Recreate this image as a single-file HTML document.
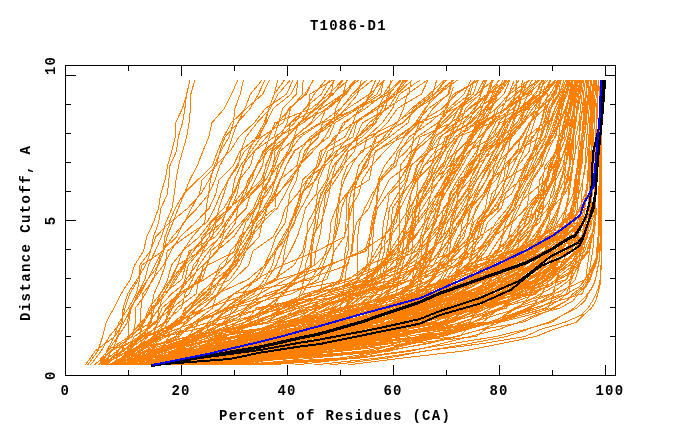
<!DOCTYPE html>
<html><head><meta charset="utf-8"><style>
html,body{margin:0;padding:0;background:#fff;}
svg{display:block;}
</style></head><body>
<svg width="680" height="440" viewBox="0 0 680 440">
<rect width="680" height="440" fill="#fff"/>
<g shape-rendering="crispEdges">
<polyline points="85.3,365.0 95.4,350.8 114.9,336.5 124.0,322.2 131.4,308.0 138.6,293.8 147.6,279.5 158.5,265.2 163.7,251.0 167.1,236.8 172.8,222.5 178.3,208.2 184.3,194.0 189.8,179.8 197.3,165.5 202.9,151.2 208.8,137.0 211.9,122.8 224.4,108.5 231.5,94.2 237.9,80.0" fill="none" stroke="#ff8000" stroke-width="1"/>
<polyline points="87.7,365.0 97.9,350.8 102.7,336.5 106.3,322.2 113.9,308.0 121.1,293.8 130.2,279.5 134.6,265.2 143.5,251.0 146.8,236.8 153.4,222.5 158.6,208.2 160.6,194.0 165.2,179.8 167.7,165.5 171.7,151.2 175.3,137.0 175.6,122.8 182.4,108.5 186.8,94.2 190.0,80.0" fill="none" stroke="#ff8000" stroke-width="1"/>
<polyline points="90.5,365.0 101.3,350.8 109.3,336.5 121.1,322.2 125.0,308.0 129.9,293.8 138.5,279.5 141.9,265.2 162.9,251.0 164.9,236.8 170.2,222.5 187.7,208.2 200.8,194.0 209.1,179.8 215.5,165.5 230.1,151.2 238.9,137.0 254.2,122.8 265.3,108.5 286.5,94.2 292.9,80.0" fill="none" stroke="#ff8000" stroke-width="1"/>
<polyline points="94.0,365.0 112.3,350.8 118.0,336.5 127.5,322.2 130.1,308.0 140.4,293.8 147.6,279.5 154.9,265.2 162.4,251.0 172.6,236.8 184.6,222.5 191.4,208.2 199.5,194.0 202.1,179.8 216.3,165.5 219.9,151.2 224.9,137.0 237.9,122.8 244.9,108.5 250.5,94.2 262.0,80.0" fill="none" stroke="#ff8000" stroke-width="1"/>
<polyline points="95.4,365.0 107.9,350.8 117.7,336.5 122.3,322.2 123.1,308.0 127.7,293.8 136.9,279.5 145.7,265.2 150.7,251.0 153.4,236.8 158.7,222.5 160.9,208.2 167.4,194.0 168.9,179.8 170.0,165.5 176.5,151.2 178.3,137.0 182.5,122.8 184.9,108.5 186.5,94.2 190.0,80.0" fill="none" stroke="#ff8000" stroke-width="1"/>
<polyline points="98.2,365.0 110.1,350.8 132.3,336.5 135.4,322.2 135.4,308.0 145.6,293.8 152.2,279.5 163.7,265.2 170.9,251.0 180.1,236.8 195.4,222.5 209.2,208.2 215.7,194.0 219.0,179.8 233.3,165.5 239.9,151.2 257.7,137.0 266.4,122.8 273.1,108.5 291.0,94.2 298.1,80.0" fill="none" stroke="#ff8000" stroke-width="1"/>
<polyline points="98.8,365.0 117.4,350.8 128.9,336.5 128.9,322.2 130.9,308.0 137.9,293.8 144.9,279.5 148.5,265.2 155.2,251.0 161.5,236.8 165.9,222.5 172.0,208.2 174.2,194.0 176.0,179.8 178.6,165.5 182.6,151.2 186.7,137.0 189.1,122.8 190.5,108.5 190.8,94.2 194.9,80.0" fill="none" stroke="#ff8000" stroke-width="1"/>
<polyline points="100.9,365.0 122.0,350.8 128.4,336.5 143.3,322.2 154.4,308.0 160.3,293.8 170.6,279.5 177.3,265.2 200.9,251.0 202.0,236.8 215.5,222.5 218.9,208.2 223.9,194.0 228.1,179.8 237.0,165.5 244.6,151.2 259.4,137.0 265.5,122.8 268.8,108.5 274.3,94.2 284.4,80.0" fill="none" stroke="#ff8000" stroke-width="1"/>
<polyline points="101.6,365.0 106.8,350.8 114.4,336.5 119.0,322.2 128.6,308.0 136.3,293.8 139.7,279.5 139.8,265.2 150.3,251.0 155.9,236.8 169.2,222.5 175.3,208.2 183.6,194.0 197.9,179.8 212.4,165.5 217.6,151.2 223.6,137.0 231.3,122.8 246.3,108.5 262.7,94.2 269.4,80.0" fill="none" stroke="#ff8000" stroke-width="1"/>
<polyline points="102.0,365.0 122.7,350.8 139.9,336.5 141.6,322.2 152.6,308.0 163.2,293.8 171.5,279.5 183.0,265.2 190.9,251.0 204.9,236.8 221.7,222.5 227.8,208.2 232.4,194.0 239.4,179.8 250.5,165.5 254.4,151.2 266.5,137.0 277.7,122.8 290.1,108.5 304.8,94.2 313.7,80.0" fill="none" stroke="#ff8000" stroke-width="1"/>
<polyline points="102.9,365.0 129.2,350.8 140.0,336.5 143.4,322.2 149.1,308.0 160.4,293.8 167.7,279.5 171.4,265.2 182.7,251.0 192.4,236.8 204.8,222.5 206.2,208.2 208.6,194.0 210.4,179.8 214.4,165.5 220.6,151.2 229.2,137.0 233.4,122.8 234.9,108.5 240.2,94.2 243.5,80.0" fill="none" stroke="#ff8000" stroke-width="1"/>
<polyline points="103.3,365.0 106.6,350.8 129.5,336.5 140.7,322.2 141.0,308.0 142.7,293.8 153.5,279.5 157.7,265.2 161.9,251.0 176.8,236.8 183.3,222.5 197.1,208.2 208.7,194.0 215.2,179.8 219.9,165.5 227.7,151.2 232.2,137.0 237.4,122.8 250.1,108.5 258.3,94.2 265.0,80.0" fill="none" stroke="#ff8000" stroke-width="1"/>
<polyline points="104.0,365.0 127.3,350.8 146.7,336.5 149.0,322.2 159.4,308.0 163.3,293.8 181.9,279.5 185.7,265.2 189.0,251.0 215.7,236.8 225.8,222.5 236.0,208.2 243.0,194.0 248.3,179.8 257.0,165.5 267.6,151.2 286.2,137.0 300.2,122.8 308.9,108.5 310.0,94.2 332.6,80.0" fill="none" stroke="#ff8000" stroke-width="1"/>
<polyline points="104.6,365.0 111.0,350.8 131.7,336.5 144.5,322.2 151.1,308.0 154.0,293.8 160.3,279.5 165.2,265.2 167.1,251.0 185.8,236.8 206.9,222.5 214.7,208.2 220.4,194.0 228.5,179.8 238.4,165.5 240.8,151.2 246.1,137.0 257.0,122.8 270.2,108.5 278.1,94.2 290.2,80.0" fill="none" stroke="#ff8000" stroke-width="1"/>
<polyline points="105.6,365.0 123.7,350.8 143.9,336.5 149.1,322.2 159.5,308.0 163.3,293.8 171.9,279.5 177.7,265.2 182.5,251.0 199.4,236.8 210.1,222.5 223.9,208.2 232.0,194.0 234.5,179.8 240.5,165.5 251.0,151.2 261.4,137.0 283.2,122.8 288.6,108.5 306.5,94.2 312.8,80.0" fill="none" stroke="#ff8000" stroke-width="1"/>
<polyline points="106.1,365.0 118.6,350.8 127.8,336.5 151.3,322.2 154.1,308.0 166.1,293.8 176.0,279.5 185.1,265.2 198.6,251.0 209.0,236.8 214.9,222.5 229.0,208.2 246.4,194.0 261.3,179.8 266.2,165.5 271.5,151.2 277.9,137.0 303.4,122.8 321.2,108.5 342.7,94.2 354.7,80.0" fill="none" stroke="#ff8000" stroke-width="1"/>
<polyline points="106.5,365.0 110.6,350.8 143.3,336.5 150.8,322.2 151.6,308.0 166.4,293.8 174.0,279.5 184.0,265.2 193.5,251.0 205.0,236.8 210.8,222.5 230.2,208.2 241.0,194.0 251.8,179.8 256.1,165.5 264.6,151.2 269.4,137.0 274.8,122.8 311.1,108.5 329.3,94.2 342.3,80.0" fill="none" stroke="#ff8000" stroke-width="1"/>
<polyline points="107.6,365.0 141.9,350.8 153.1,336.5 157.5,322.2 158.6,308.0 171.6,293.8 189.6,279.5 193.2,265.2 204.7,251.0 220.6,236.8 232.3,222.5 246.2,208.2 250.5,194.0 263.0,179.8 265.6,165.5 272.1,151.2 287.3,137.0 298.8,122.8 317.1,108.5 333.3,94.2 343.2,80.0" fill="none" stroke="#ff8000" stroke-width="1"/>
<polyline points="107.8,365.0 116.6,350.8 139.3,336.5 156.5,322.2 162.1,308.0 179.1,293.8 185.0,279.5 188.2,265.2 200.1,251.0 212.3,236.8 216.1,222.5 231.0,208.2 237.0,194.0 240.0,179.8 242.9,165.5 254.0,151.2 273.9,137.0 278.7,122.8 282.6,108.5 296.4,94.2 297.8,80.0" fill="none" stroke="#ff8000" stroke-width="1"/>
<polyline points="108.9,365.0 133.7,350.8 162.7,336.5 173.9,322.2 190.2,308.0 199.4,293.8 215.0,279.5 234.1,265.2 242.6,251.0 251.1,236.8 263.4,222.5 266.9,208.2 278.2,194.0 288.4,179.8 299.8,165.5 309.6,151.2 329.0,137.0 335.1,122.8 357.8,108.5 380.7,94.2 383.7,80.0" fill="none" stroke="#ff8000" stroke-width="1"/>
<polyline points="109.2,365.0 136.3,350.8 147.7,336.5 158.9,322.2 166.0,308.0 179.2,293.8 186.1,279.5 196.3,265.2 202.8,251.0 211.1,236.8 222.9,222.5 226.7,208.2 234.2,194.0 238.9,179.8 243.9,165.5 248.5,151.2 256.3,137.0 264.3,122.8 268.9,108.5 274.3,94.2 277.7,80.0" fill="none" stroke="#ff8000" stroke-width="1"/>
<polyline points="110.4,365.0 149.2,350.8 159.7,336.5 167.6,322.2 176.9,308.0 196.1,293.8 198.9,279.5 203.7,265.2 217.6,251.0 225.8,236.8 235.6,222.5 237.8,208.2 245.5,194.0 249.7,179.8 257.3,165.5 263.1,151.2 280.0,137.0 287.1,122.8 290.5,108.5 302.6,94.2 303.1,80.0" fill="none" stroke="#ff8000" stroke-width="1"/>
<polyline points="110.6,365.0 157.3,350.8 175.2,336.5 194.4,322.2 212.6,308.0 217.0,293.8 225.2,279.5 232.2,265.2 243.9,251.0 250.4,236.8 252.9,222.5 260.0,208.2 264.4,194.0 268.6,179.8 277.9,165.5 291.0,151.2 294.4,137.0 310.8,122.8 319.7,108.5 330.9,94.2 333.7,80.0" fill="none" stroke="#ff8000" stroke-width="1"/>
<polyline points="111.6,365.0 140.5,350.8 167.0,336.5 177.0,322.2 191.7,308.0 210.1,293.8 213.1,279.5 225.2,265.2 230.3,251.0 243.0,236.8 250.8,222.5 255.0,208.2 264.5,194.0 274.9,179.8 278.8,165.5 287.9,151.2 294.0,137.0 312.2,122.8 326.2,108.5 343.0,94.2 346.9,80.0" fill="none" stroke="#ff8000" stroke-width="1"/>
<polyline points="112.0,365.0 133.3,350.8 156.0,336.5 165.2,322.2 168.8,308.0 179.5,293.8 200.3,279.5 203.2,265.2 216.5,251.0 233.8,236.8 243.3,222.5 255.6,208.2 267.1,194.0 275.8,179.8 281.5,165.5 289.7,151.2 300.3,137.0 321.6,122.8 340.5,108.5 354.6,94.2 372.8,80.0" fill="none" stroke="#ff8000" stroke-width="1"/>
<polyline points="112.9,365.0 121.6,350.8 143.9,336.5 164.7,322.2 172.6,308.0 189.2,293.8 196.6,279.5 207.3,265.2 211.0,251.0 227.9,236.8 241.3,222.5 253.5,208.2 259.4,194.0 269.4,179.8 275.0,165.5 280.0,151.2 296.9,137.0 320.2,122.8 326.1,108.5 346.4,94.2 355.8,80.0" fill="none" stroke="#ff8000" stroke-width="1"/>
<polyline points="113.6,365.0 128.6,350.8 141.5,336.5 166.5,322.2 170.2,308.0 177.4,293.8 204.4,279.5 225.8,265.2 238.2,251.0 242.5,236.8 251.0,222.5 263.8,208.2 277.0,194.0 290.6,179.8 300.7,165.5 304.5,151.2 318.4,137.0 322.5,122.8 357.3,108.5 388.4,94.2 391.0,80.0" fill="none" stroke="#ff8000" stroke-width="1"/>
<polyline points="113.9,365.0 132.8,350.8 153.5,336.5 164.5,322.2 181.5,308.0 185.1,293.8 192.5,279.5 199.0,265.2 209.0,251.0 219.7,236.8 227.7,222.5 237.1,208.2 248.3,194.0 255.2,179.8 262.6,165.5 265.4,151.2 279.4,137.0 294.7,122.8 304.5,108.5 321.3,94.2 329.5,80.0" fill="none" stroke="#ff8000" stroke-width="1"/>
<polyline points="115.0,365.0 130.6,350.8 160.4,336.5 178.3,322.2 185.3,308.0 205.4,293.8 214.1,279.5 219.7,265.2 234.2,251.0 239.8,236.8 254.5,222.5 259.7,208.2 261.2,194.0 270.1,179.8 272.7,165.5 278.5,151.2 286.5,137.0 300.5,122.8 315.1,108.5 325.3,94.2 334.5,80.0" fill="none" stroke="#ff8000" stroke-width="1"/>
<polyline points="115.8,365.0 135.0,350.8 160.5,336.5 179.3,322.2 191.3,308.0 207.9,293.8 220.0,279.5 231.1,265.2 240.2,251.0 249.1,236.8 260.2,222.5 266.6,208.2 275.2,194.0 280.4,179.8 286.3,165.5 294.8,151.2 313.0,137.0 329.9,122.8 340.9,108.5 352.1,94.2 366.8,80.0" fill="none" stroke="#ff8000" stroke-width="1"/>
<polyline points="116.4,365.0 127.2,350.8 140.2,336.5 154.4,322.2 172.4,308.0 178.4,293.8 189.0,279.5 202.9,265.2 217.1,251.0 222.8,236.8 225.5,222.5 236.1,208.2 251.6,194.0 265.9,179.8 273.6,165.5 274.7,151.2 287.6,137.0 290.5,122.8 316.2,108.5 332.4,94.2 348.1,80.0" fill="none" stroke="#ff8000" stroke-width="1"/>
<polyline points="117.3,365.0 144.6,350.8 175.6,336.5 184.9,322.2 196.9,308.0 217.7,293.8 225.3,279.5 235.5,265.2 245.9,251.0 252.4,236.8 257.2,222.5 275.0,208.2 275.3,194.0 280.4,179.8 286.1,165.5 293.9,151.2 314.6,137.0 333.7,122.8 335.8,108.5 343.4,94.2 358.4,80.0" fill="none" stroke="#ff8000" stroke-width="1"/>
<polyline points="117.8,365.0 206.6,350.8 216.7,336.5 237.5,322.2 245.6,308.0 260.3,293.8 267.2,279.5 276.2,265.2 281.4,251.0 286.6,236.8 294.8,222.5 296.8,208.2 300.8,194.0 316.1,179.8 323.4,165.5 333.0,151.2 335.9,137.0 345.3,122.8 362.3,108.5 369.5,94.2 375.7,80.0" fill="none" stroke="#ff8000" stroke-width="1"/>
<polyline points="118.1,365.0 130.1,350.8 154.7,336.5 181.5,322.2 186.4,308.0 201.5,293.8 229.7,279.5 240.0,265.2 245.9,251.0 259.2,236.8 262.2,222.5 277.2,208.2 285.1,194.0 291.9,179.8 298.6,165.5 307.0,151.2 312.8,137.0 331.0,122.8 355.4,108.5 376.9,94.2 383.9,80.0" fill="none" stroke="#ff8000" stroke-width="1"/>
<polyline points="118.7,365.0 127.2,350.8 134.2,336.5 156.3,322.2 167.4,308.0 182.0,293.8 201.9,279.5 207.1,265.2 236.8,251.0 246.3,236.8 254.8,222.5 265.4,208.2 273.8,194.0 279.8,179.8 297.1,165.5 300.3,151.2 310.2,137.0 328.0,122.8 347.5,108.5 369.3,94.2 384.7,80.0" fill="none" stroke="#ff8000" stroke-width="1"/>
<polyline points="118.9,365.0 131.5,350.8 155.5,336.5 178.5,322.2 203.2,308.0 218.8,293.8 233.4,279.5 248.7,265.2 252.9,251.0 273.1,236.8 280.9,222.5 285.2,208.2 297.3,194.0 307.1,179.8 318.8,165.5 325.2,151.2 334.0,137.0 353.7,122.8 374.9,108.5 395.7,94.2 407.4,80.0" fill="none" stroke="#ff8000" stroke-width="1"/>
<polyline points="119.3,365.0 154.4,350.8 206.7,336.5 222.6,322.2 237.5,308.0 243.0,293.8 255.1,279.5 264.3,265.2 271.0,251.0 275.9,236.8 285.3,222.5 287.7,208.2 289.7,194.0 296.4,179.8 299.3,165.5 313.1,151.2 325.0,137.0 332.7,122.8 345.7,108.5 357.7,94.2 361.3,80.0" fill="none" stroke="#ff8000" stroke-width="1"/>
<polyline points="119.9,365.0 157.6,350.8 203.4,336.5 211.0,322.2 231.9,308.0 253.7,293.8 264.5,279.5 272.6,265.2 275.8,251.0 287.4,236.8 293.6,222.5 301.1,208.2 308.9,194.0 314.9,179.8 322.5,165.5 335.9,151.2 362.0,137.0 376.0,122.8 378.0,108.5 385.0,94.2 401.1,80.0" fill="none" stroke="#ff8000" stroke-width="1"/>
<polyline points="120.4,365.0 135.8,350.8 145.1,336.5 177.3,322.2 189.8,308.0 203.6,293.8 221.8,279.5 236.6,265.2 240.1,251.0 249.8,236.8 253.8,222.5 263.4,208.2 271.5,194.0 275.0,179.8 281.5,165.5 288.1,151.2 294.1,137.0 298.5,122.8 328.5,108.5 345.4,94.2 355.1,80.0" fill="none" stroke="#ff8000" stroke-width="1"/>
<polyline points="120.7,365.0 159.8,350.8 168.9,336.5 187.4,322.2 202.9,308.0 217.1,293.8 248.0,279.5 264.9,265.2 274.6,251.0 282.7,236.8 291.1,222.5 295.4,208.2 302.0,194.0 307.4,179.8 323.8,165.5 327.6,151.2 353.0,137.0 356.7,122.8 375.0,108.5 393.3,94.2 405.3,80.0" fill="none" stroke="#ff8000" stroke-width="1"/>
<polyline points="121.3,365.0 164.5,350.8 187.3,336.5 213.9,322.2 229.4,308.0 249.1,293.8 276.9,279.5 282.2,265.2 290.3,251.0 297.3,236.8 301.8,222.5 305.4,208.2 316.3,194.0 318.8,179.8 324.9,165.5 342.2,151.2 357.7,137.0 369.2,122.8 386.5,108.5 408.9,94.2 411.1,80.0" fill="none" stroke="#ff8000" stroke-width="1"/>
<polyline points="121.5,365.0 138.5,350.8 147.1,336.5 180.0,322.2 196.0,308.0 212.6,293.8 220.6,279.5 233.3,265.2 236.4,251.0 241.3,236.8 245.8,222.5 256.2,208.2 261.3,194.0 263.9,179.8 268.6,165.5 272.9,151.2 275.5,137.0 290.8,122.8 305.4,108.5 314.2,94.2 325.5,80.0" fill="none" stroke="#ff8000" stroke-width="1"/>
<polyline points="122.1,365.0 127.7,350.8 188.4,336.5 198.7,322.2 226.0,308.0 246.2,293.8 273.9,279.5 293.9,265.2 302.9,251.0 305.6,236.8 312.7,222.5 318.0,208.2 320.5,194.0 331.3,179.8 340.8,165.5 348.2,151.2 372.4,137.0 387.3,122.8 397.5,108.5 421.3,94.2 428.1,80.0" fill="none" stroke="#ff8000" stroke-width="1"/>
<polyline points="122.3,365.0 130.1,350.8 157.4,336.5 195.1,322.2 221.0,308.0 233.5,293.8 258.5,279.5 266.2,265.2 275.9,251.0 284.6,236.8 291.6,222.5 296.4,208.2 300.0,194.0 302.6,179.8 318.4,165.5 322.0,151.2 336.5,137.0 343.2,122.8 365.6,108.5 383.8,94.2 392.6,80.0" fill="none" stroke="#ff8000" stroke-width="1"/>
<polyline points="123.1,365.0 173.9,350.8 189.6,336.5 217.1,322.2 225.6,308.0 243.4,293.8 275.2,279.5 282.7,265.2 284.5,251.0 288.0,236.8 289.5,222.5 298.6,208.2 302.2,194.0 311.3,179.8 316.7,165.5 320.3,151.2 344.8,137.0 352.7,122.8 358.6,108.5 372.2,94.2 380.0,80.0" fill="none" stroke="#ff8000" stroke-width="1"/>
<polyline points="123.3,365.0 183.8,350.8 217.2,336.5 228.6,322.2 282.0,308.0 302.5,293.8 310.9,279.5 320.1,265.2 326.2,251.0 329.8,236.8 330.7,222.5 336.2,208.2 346.1,194.0 358.1,179.8 363.1,165.5 376.4,151.2 396.1,137.0 418.3,122.8 425.8,108.5 434.2,94.2 453.7,80.0" fill="none" stroke="#ff8000" stroke-width="1"/>
<polyline points="123.7,365.0 171.9,350.8 205.2,336.5 244.4,322.2 265.4,308.0 283.7,293.8 296.0,279.5 300.9,265.2 304.5,251.0 306.7,236.8 307.8,222.5 315.7,208.2 322.0,194.0 327.9,179.8 333.4,165.5 345.7,151.2 356.8,137.0 373.1,122.8 382.2,108.5 388.4,94.2 401.2,80.0" fill="none" stroke="#ff8000" stroke-width="1"/>
<polyline points="124.0,365.0 173.9,350.8 253.2,336.5 278.5,322.2 295.8,308.0 300.2,293.8 304.1,279.5 305.4,265.2 309.8,251.0 312.5,236.8 321.1,222.5 325.3,208.2 329.1,194.0 331.6,179.8 342.7,165.5 354.5,151.2 358.0,137.0 375.1,122.8 385.1,108.5 389.5,94.2 400.1,80.0" fill="none" stroke="#ff8000" stroke-width="1"/>
<polyline points="124.5,365.0 138.4,350.8 163.9,336.5 226.1,322.2 232.9,308.0 291.7,293.8 318.3,279.5 323.0,265.2 328.7,251.0 335.4,236.8 339.3,222.5 341.6,208.2 347.0,194.0 369.2,179.8 372.0,165.5 375.1,151.2 403.1,137.0 415.5,122.8 425.1,108.5 438.0,94.2 453.6,80.0" fill="none" stroke="#ff8000" stroke-width="1"/>
<polyline points="125.0,365.0 180.6,350.8 194.4,336.5 224.2,322.2 248.2,308.0 277.7,293.8 303.0,279.5 311.2,265.2 312.0,251.0 314.1,236.8 317.5,222.5 319.7,208.2 324.2,194.0 331.6,179.8 335.4,165.5 345.3,151.2 356.3,137.0 362.4,122.8 388.1,108.5 397.0,94.2 412.0,80.0" fill="none" stroke="#ff8000" stroke-width="1"/>
<polyline points="125.6,365.0 139.1,350.8 162.5,336.5 209.5,322.2 263.8,308.0 283.7,293.8 293.4,279.5 314.3,265.2 315.7,251.0 319.7,236.8 322.0,222.5 323.9,208.2 325.5,194.0 335.6,179.8 344.5,165.5 348.1,151.2 366.9,137.0 382.3,122.8 392.5,108.5 399.4,94.2 420.2,80.0" fill="none" stroke="#ff8000" stroke-width="1"/>
<polyline points="126.0,365.0 145.1,350.8 177.1,336.5 197.9,322.2 230.2,308.0 259.4,293.8 286.1,279.5 314.6,265.2 329.3,251.0 334.9,236.8 337.3,222.5 338.4,208.2 340.3,194.0 342.0,179.8 347.4,165.5 363.3,151.2 367.3,137.0 396.9,122.8 411.5,108.5 429.4,94.2 444.4,80.0" fill="none" stroke="#ff8000" stroke-width="1"/>
<polyline points="126.1,365.0 135.9,350.8 189.0,336.5 213.6,322.2 226.9,308.0 273.8,293.8 294.8,279.5 310.1,265.2 311.3,251.0 312.4,236.8 315.2,222.5 315.6,208.2 317.8,194.0 326.9,179.8 329.8,165.5 337.2,151.2 348.7,137.0 354.8,122.8 378.4,108.5 396.2,94.2 403.2,80.0" fill="none" stroke="#ff8000" stroke-width="1"/>
<polyline points="126.5,365.0 172.6,350.8 255.7,336.5 282.8,322.2 331.5,308.0 342.8,293.8 345.2,279.5 346.6,265.2 352.2,251.0 353.6,236.8 356.6,222.5 368.9,208.2 374.2,194.0 379.3,179.8 391.1,165.5 406.4,151.2 417.1,137.0 437.8,122.8 448.5,108.5 464.0,94.2 471.0,80.0" fill="none" stroke="#ff8000" stroke-width="1"/>
<polyline points="127.1,365.0 172.6,350.8 199.4,336.5 237.9,322.2 272.1,308.0 281.3,293.8 326.9,279.5 331.7,265.2 333.4,251.0 333.6,236.8 335.5,222.5 337.1,208.2 339.6,194.0 344.4,179.8 351.6,165.5 361.0,151.2 387.1,137.0 397.4,122.8 403.7,108.5 407.2,94.2 427.5,80.0" fill="none" stroke="#ff8000" stroke-width="1"/>
<polyline points="127.6,365.0 160.8,350.8 223.7,336.5 257.1,322.2 284.2,308.0 327.0,293.8 339.9,279.5 344.0,265.2 345.2,251.0 348.0,236.8 348.5,222.5 349.8,208.2 358.8,194.0 362.3,179.8 371.7,165.5 384.7,151.2 398.7,137.0 416.8,122.8 428.3,108.5 449.0,94.2 452.4,80.0" fill="none" stroke="#ff8000" stroke-width="1"/>
<polyline points="127.8,365.0 151.3,350.8 201.0,336.5 225.4,322.2 260.9,308.0 319.7,293.8 323.3,279.5 330.3,265.2 334.3,251.0 344.5,236.8 346.0,222.5 346.3,208.2 347.2,194.0 355.6,179.8 367.7,165.5 371.3,151.2 376.7,137.0 402.5,122.8 417.0,108.5 434.7,94.2 444.8,80.0" fill="none" stroke="#ff8000" stroke-width="1"/>
<polyline points="128.4,365.0 140.9,350.8 153.3,336.5 174.0,322.2 208.7,308.0 234.3,293.8 255.9,279.5 282.3,265.2 317.0,251.0 344.3,236.8 348.5,222.5 351.9,208.2 354.5,194.0 355.4,179.8 359.0,165.5 369.5,151.2 375.6,137.0 402.9,122.8 417.6,108.5 438.8,94.2 457.5,80.0" fill="none" stroke="#ff8000" stroke-width="1"/>
<polyline points="128.8,365.0 163.0,350.8 225.4,336.5 250.8,322.2 290.2,308.0 326.4,293.8 355.2,279.5 366.8,265.2 368.8,251.0 369.6,236.8 371.5,222.5 374.6,208.2 382.0,194.0 389.0,179.8 407.3,165.5 412.1,151.2 427.2,137.0 444.5,122.8 459.6,108.5 480.9,94.2 486.6,80.0" fill="none" stroke="#ff8000" stroke-width="1"/>
<polyline points="129.4,365.0 165.6,350.8 198.2,336.5 245.8,322.2 278.0,308.0 311.0,293.8 341.6,279.5 344.8,265.2 348.0,251.0 348.0,236.8 348.0,222.5 348.0,208.2 350.6,194.0 355.4,179.8 365.0,165.5 370.7,151.2 389.5,137.0 408.1,122.8 413.2,108.5 432.4,94.2 436.8,80.0" fill="none" stroke="#ff8000" stroke-width="1"/>
<polyline points="129.9,365.0 218.1,350.8 241.5,336.5 306.5,322.2 344.0,308.0 352.8,293.8 357.1,279.5 357.3,265.2 357.4,251.0 357.7,236.8 359.4,222.5 364.7,208.2 372.1,194.0 381.7,179.8 393.5,165.5 397.6,151.2 413.3,137.0 422.8,122.8 433.0,108.5 447.9,94.2 451.4,80.0" fill="none" stroke="#ff8000" stroke-width="1"/>
<polyline points="130.1,365.0 150.9,350.8 194.6,336.5 209.6,322.2 245.9,308.0 266.5,293.8 305.8,279.5 347.8,265.2 351.3,251.0 352.7,236.8 353.8,222.5 353.8,208.2 353.8,194.0 357.3,179.8 363.6,165.5 371.9,151.2 383.6,137.0 395.9,122.8 416.0,108.5 434.3,94.2 446.5,80.0" fill="none" stroke="#ff8000" stroke-width="1"/>
<polyline points="130.4,365.0 210.3,350.8 244.2,336.5 290.5,322.2 344.2,308.0 354.5,293.8 365.5,279.5 370.1,265.2 372.1,251.0 373.0,236.8 374.1,222.5 377.5,208.2 387.6,194.0 399.5,179.8 409.1,165.5 415.6,151.2 431.2,137.0 441.8,122.8 455.9,108.5 473.2,94.2 477.9,80.0" fill="none" stroke="#ff8000" stroke-width="1"/>
<polyline points="131.0,365.0 157.6,350.8 198.2,336.5 208.1,322.2 220.2,308.0 233.3,293.8 312.2,279.5 327.7,265.2 366.4,251.0 371.2,236.8 372.8,222.5 376.3,208.2 377.7,194.0 380.1,179.8 396.1,165.5 400.1,151.2 409.1,137.0 429.4,122.8 446.5,108.5 453.5,94.2 479.0,80.0" fill="none" stroke="#ff8000" stroke-width="1"/>
<polyline points="131.3,365.0 154.3,350.8 179.3,336.5 195.0,322.2 228.2,308.0 272.4,293.8 295.2,279.5 327.6,265.2 364.9,251.0 369.3,236.8 373.5,222.5 375.9,208.2 377.1,194.0 378.4,179.8 384.7,165.5 395.8,151.2 404.3,137.0 418.8,122.8 442.2,108.5 456.4,94.2 477.2,80.0" fill="none" stroke="#ff8000" stroke-width="1"/>
<polyline points="131.8,365.0 146.1,350.8 241.7,336.5 279.9,322.2 309.4,308.0 361.1,293.8 375.1,279.5 380.8,265.2 384.4,251.0 385.2,236.8 387.7,222.5 389.4,208.2 397.7,194.0 406.4,179.8 411.5,165.5 425.9,151.2 433.1,137.0 456.1,122.8 468.2,108.5 486.9,94.2 491.9,80.0" fill="none" stroke="#ff8000" stroke-width="1"/>
<polyline points="132.3,365.0 156.8,350.8 194.4,336.5 259.0,322.2 282.5,308.0 309.9,293.8 372.0,279.5 377.2,265.2 380.7,251.0 382.4,236.8 383.3,222.5 387.1,208.2 389.2,194.0 404.4,179.8 408.7,165.5 415.1,151.2 420.1,137.0 451.3,122.8 458.5,108.5 476.4,94.2 483.8,80.0" fill="none" stroke="#ff8000" stroke-width="1"/>
<polyline points="132.6,365.0 203.9,350.8 212.2,336.5 266.6,322.2 288.5,308.0 324.7,293.8 379.0,279.5 381.6,265.2 390.8,251.0 391.1,236.8 394.1,222.5 396.9,208.2 401.4,194.0 413.8,179.8 417.7,165.5 429.8,151.2 439.2,137.0 463.1,122.8 474.0,108.5 487.6,94.2 499.4,80.0" fill="none" stroke="#ff8000" stroke-width="1"/>
<polyline points="133.3,365.0 198.4,350.8 247.5,336.5 286.6,322.2 346.1,308.0 364.2,293.8 381.8,279.5 384.8,265.2 387.2,251.0 390.7,236.8 391.3,222.5 392.5,208.2 402.1,194.0 407.3,179.8 410.6,165.5 429.1,151.2 436.2,137.0 450.9,122.8 469.9,108.5 488.9,94.2 492.8,80.0" fill="none" stroke="#ff8000" stroke-width="1"/>
<polyline points="133.8,365.0 236.9,350.8 294.8,336.5 314.4,322.2 363.3,308.0 381.6,293.8 384.5,279.5 387.0,265.2 388.8,251.0 389.3,236.8 392.4,222.5 398.4,208.2 402.9,194.0 412.8,179.8 416.7,165.5 428.8,151.2 452.3,137.0 460.7,122.8 465.4,108.5 479.9,94.2 485.2,80.0" fill="none" stroke="#ff8000" stroke-width="1"/>
<polyline points="134.6,365.0 146.7,350.8 187.1,336.5 273.8,322.2 309.0,308.0 330.1,293.8 394.5,279.5 399.1,265.2 403.9,251.0 410.8,236.8 411.9,222.5 413.1,208.2 426.1,194.0 433.9,179.8 449.9,165.5 457.6,151.2 472.0,137.0 479.9,122.8 506.5,108.5 531.4,94.2 536.0,80.0" fill="none" stroke="#ff8000" stroke-width="1"/>
<polyline points="135.0,365.0 187.3,350.8 255.8,336.5 292.0,322.2 313.7,308.0 345.0,293.8 393.1,279.5 396.5,265.2 402.9,251.0 403.3,236.8 407.3,222.5 411.2,208.2 416.7,194.0 418.0,179.8 424.0,165.5 444.5,151.2 455.2,137.0 474.8,122.8 485.5,108.5 498.9,94.2 509.0,80.0" fill="none" stroke="#ff8000" stroke-width="1"/>
<polyline points="135.5,365.0 195.9,350.8 300.2,336.5 320.6,322.2 390.8,308.0 396.3,293.8 398.7,279.5 402.7,265.2 406.6,251.0 409.4,236.8 412.7,222.5 417.2,208.2 427.2,194.0 440.2,179.8 452.3,165.5 456.5,151.2 471.7,137.0 477.2,122.8 496.6,108.5 508.7,94.2 519.2,80.0" fill="none" stroke="#ff8000" stroke-width="1"/>
<polyline points="136.3,365.0 142.5,350.8 154.6,336.5 183.9,322.2 208.0,308.0 248.4,293.8 277.6,279.5 330.0,265.2 361.3,251.0 383.3,236.8 396.4,222.5 399.1,208.2 399.2,194.0 399.8,179.8 400.2,165.5 411.1,151.2 413.7,137.0 419.5,122.8 455.8,108.5 476.8,94.2 493.5,80.0" fill="none" stroke="#ff8000" stroke-width="1"/>
<polyline points="136.8,365.0 152.7,350.8 200.2,336.5 237.1,322.2 274.3,308.0 305.0,293.8 353.9,279.5 383.6,265.2 397.0,251.0 402.9,236.8 405.4,222.5 406.9,208.2 410.6,194.0 415.8,179.8 424.1,165.5 435.2,151.2 440.6,137.0 456.7,122.8 478.4,108.5 487.4,94.2 507.2,80.0" fill="none" stroke="#ff8000" stroke-width="1"/>
<polyline points="137.1,365.0 181.8,350.8 235.6,336.5 249.9,322.2 300.0,308.0 324.7,293.8 366.9,279.5 385.3,265.2 398.8,251.0 404.3,236.8 406.8,222.5 409.0,208.2 410.9,194.0 416.8,179.8 431.2,165.5 436.5,151.2 458.8,137.0 463.9,122.8 478.6,108.5 496.3,94.2 505.4,80.0" fill="none" stroke="#ff8000" stroke-width="1"/>
<polyline points="137.6,365.0 158.9,350.8 232.8,336.5 292.5,322.2 333.5,308.0 361.0,293.8 397.3,279.5 402.6,265.2 406.2,251.0 408.2,236.8 412.3,222.5 416.7,208.2 419.0,194.0 429.8,179.8 434.1,165.5 444.6,151.2 447.1,137.0 470.9,122.8 484.3,108.5 497.8,94.2 506.9,80.0" fill="none" stroke="#ff8000" stroke-width="1"/>
<polyline points="138.4,365.0 162.3,350.8 199.1,336.5 228.1,322.2 284.5,308.0 312.5,293.8 345.5,279.5 381.3,265.2 408.5,251.0 409.7,236.8 418.0,222.5 419.4,208.2 422.7,194.0 428.0,179.8 443.2,165.5 448.1,151.2 457.7,137.0 491.9,122.8 495.5,108.5 509.4,94.2 529.3,80.0" fill="none" stroke="#ff8000" stroke-width="1"/>
<polyline points="139.0,365.0 238.8,350.8 281.5,336.5 309.6,322.2 369.0,308.0 382.8,293.8 402.4,279.5 409.0,265.2 412.0,251.0 413.0,236.8 415.5,222.5 416.2,208.2 425.3,194.0 434.5,179.8 444.7,165.5 450.7,151.2 458.6,137.0 476.7,122.8 488.8,108.5 503.8,94.2 510.0,80.0" fill="none" stroke="#ff8000" stroke-width="1"/>
<polyline points="139.3,365.0 187.1,350.8 224.1,336.5 259.3,322.2 297.7,308.0 342.1,293.8 372.1,279.5 396.4,265.2 398.4,251.0 399.1,236.8 399.1,222.5 399.1,208.2 399.1,194.0 400.0,179.8 407.8,165.5 414.2,151.2 431.6,137.0 438.9,122.8 450.8,108.5 470.1,94.2 474.2,80.0" fill="none" stroke="#ff8000" stroke-width="1"/>
<polyline points="140.1,365.0 151.3,350.8 191.9,336.5 230.5,322.2 250.6,308.0 276.0,293.8 348.7,279.5 367.3,265.2 401.9,251.0 415.6,236.8 424.3,222.5 427.4,208.2 431.1,194.0 432.7,179.8 440.7,165.5 456.9,151.2 473.2,137.0 484.5,122.8 505.3,108.5 526.5,94.2 539.4,80.0" fill="none" stroke="#ff8000" stroke-width="1"/>
<polyline points="140.3,365.0 226.5,350.8 257.6,336.5 347.9,322.2 397.8,308.0 403.9,293.8 411.9,279.5 415.2,265.2 419.6,251.0 420.6,236.8 425.0,222.5 431.5,208.2 437.4,194.0 444.8,179.8 451.0,165.5 463.5,151.2 479.4,137.0 493.6,122.8 498.2,108.5 515.4,94.2 516.7,80.0" fill="none" stroke="#ff8000" stroke-width="1"/>
<polyline points="140.9,365.0 176.4,350.8 194.1,336.5 257.2,322.2 261.5,308.0 356.9,293.8 371.2,279.5 400.4,265.2 403.6,251.0 412.0,236.8 413.1,222.5 415.4,208.2 418.0,194.0 426.9,179.8 430.9,165.5 441.0,151.2 445.3,137.0 469.7,122.8 481.2,108.5 488.8,94.2 506.9,80.0" fill="none" stroke="#ff8000" stroke-width="1"/>
<polyline points="141.6,365.0 306.1,350.8 329.8,336.5 389.1,322.2 413.6,308.0 417.5,293.8 421.0,279.5 423.3,265.2 426.8,251.0 428.8,236.8 441.3,222.5 446.9,208.2 449.7,194.0 457.6,179.8 466.8,165.5 476.6,151.2 482.2,137.0 489.5,122.8 507.1,108.5 520.2,94.2 522.5,80.0" fill="none" stroke="#ff8000" stroke-width="1"/>
<polyline points="142.1,365.0 261.0,350.8 365.7,336.5 390.8,322.2 407.5,308.0 415.9,293.8 418.3,279.5 420.6,265.2 421.5,251.0 423.1,236.8 427.6,222.5 432.8,208.2 441.1,194.0 451.0,179.8 460.3,165.5 464.7,151.2 473.2,137.0 481.7,122.8 490.7,108.5 495.6,94.2 503.2,80.0" fill="none" stroke="#ff8000" stroke-width="1"/>
<polyline points="142.6,365.0 190.6,350.8 287.7,336.5 319.7,322.2 364.1,308.0 401.2,293.8 413.6,279.5 419.3,265.2 425.4,251.0 428.4,236.8 434.6,222.5 439.6,208.2 442.6,194.0 447.7,179.8 459.8,165.5 468.5,151.2 493.4,137.0 498.8,122.8 509.4,108.5 524.6,94.2 532.3,80.0" fill="none" stroke="#ff8000" stroke-width="1"/>
<polyline points="142.9,365.0 215.5,350.8 249.7,336.5 302.2,322.2 317.2,308.0 366.1,293.8 411.9,279.5 422.3,265.2 426.3,251.0 429.8,236.8 435.2,222.5 438.4,208.2 443.2,194.0 444.8,179.8 457.1,165.5 469.4,151.2 483.0,137.0 490.2,122.8 513.3,108.5 523.2,94.2 538.5,80.0" fill="none" stroke="#ff8000" stroke-width="1"/>
<polyline points="143.8,365.0 192.5,350.8 266.3,336.5 334.2,322.2 381.6,308.0 397.5,293.8 420.7,279.5 425.0,265.2 433.6,251.0 437.3,236.8 441.1,222.5 443.5,208.2 454.5,194.0 462.4,179.8 468.1,165.5 481.8,151.2 502.6,137.0 508.2,122.8 521.6,108.5 528.1,94.2 543.6,80.0" fill="none" stroke="#ff8000" stroke-width="1"/>
<polyline points="144.1,365.0 189.7,350.8 258.6,336.5 305.3,322.2 374.0,308.0 397.7,293.8 416.4,279.5 422.5,265.2 432.3,251.0 437.4,236.8 440.0,222.5 447.7,208.2 453.2,194.0 465.6,179.8 473.4,165.5 480.8,151.2 497.5,137.0 504.6,122.8 523.4,108.5 534.1,94.2 547.9,80.0" fill="none" stroke="#ff8000" stroke-width="1"/>
<polyline points="144.8,365.0 157.9,350.8 214.8,336.5 299.7,322.2 356.3,308.0 371.2,293.8 411.4,279.5 429.1,265.2 432.6,251.0 436.6,236.8 444.0,222.5 447.8,208.2 450.6,194.0 461.5,179.8 472.6,165.5 477.6,151.2 481.9,137.0 492.2,122.8 520.2,108.5 538.9,94.2 545.3,80.0" fill="none" stroke="#ff8000" stroke-width="1"/>
<polyline points="145.3,365.0 207.2,350.8 266.4,336.5 296.3,322.2 321.4,308.0 352.2,293.8 406.4,279.5 416.7,265.2 426.9,251.0 430.4,236.8 433.7,222.5 435.6,208.2 440.2,194.0 449.6,179.8 453.3,165.5 464.3,151.2 470.8,137.0 481.8,122.8 505.7,108.5 516.4,94.2 530.2,80.0" fill="none" stroke="#ff8000" stroke-width="1"/>
<polyline points="145.7,365.0 204.7,350.8 220.3,336.5 304.8,322.2 326.6,308.0 353.3,293.8 415.8,279.5 425.6,265.2 434.2,251.0 441.2,236.8 443.3,222.5 448.8,208.2 456.5,194.0 463.9,179.8 470.0,165.5 483.8,151.2 510.0,137.0 521.0,122.8 525.3,108.5 543.4,94.2 549.8,80.0" fill="none" stroke="#ff8000" stroke-width="1"/>
<polyline points="146.6,365.0 167.1,350.8 203.2,336.5 266.5,322.2 307.7,308.0 342.7,293.8 383.7,279.5 414.1,265.2 431.9,251.0 439.1,236.8 445.1,222.5 451.3,208.2 456.4,194.0 459.1,179.8 477.9,165.5 483.6,151.2 489.6,137.0 500.4,122.8 526.3,108.5 544.3,94.2 554.5,80.0" fill="none" stroke="#ff8000" stroke-width="1"/>
<polyline points="147.0,365.0 154.8,350.8 238.7,336.5 278.0,322.2 317.4,308.0 343.1,293.8 392.9,279.5 422.2,265.2 429.7,251.0 442.7,236.8 447.5,222.5 455.0,208.2 458.8,194.0 465.4,179.8 476.4,165.5 486.3,151.2 500.1,137.0 506.1,122.8 528.2,108.5 539.3,94.2 555.2,80.0" fill="none" stroke="#ff8000" stroke-width="1"/>
<polyline points="147.8,365.0 199.3,350.8 226.3,336.5 244.7,322.2 270.2,308.0 317.7,293.8 362.3,279.5 383.0,265.2 417.0,251.0 427.5,236.8 435.9,222.5 439.0,208.2 442.1,194.0 447.8,179.8 451.4,165.5 463.1,151.2 468.5,137.0 482.6,122.8 506.0,108.5 519.6,94.2 538.0,80.0" fill="none" stroke="#ff8000" stroke-width="1"/>
<polyline points="148.2,365.0 272.0,350.8 342.9,336.5 385.6,322.2 415.4,308.0 424.8,293.8 440.1,279.5 447.8,265.2 449.8,251.0 450.7,236.8 453.2,222.5 461.5,208.2 468.5,194.0 470.5,179.8 476.2,165.5 493.1,151.2 506.0,137.0 519.3,122.8 524.9,108.5 535.8,94.2 541.7,80.0" fill="none" stroke="#ff8000" stroke-width="1"/>
<polyline points="148.8,365.0 210.1,350.8 287.5,336.5 348.7,322.2 387.5,308.0 419.2,293.8 431.9,279.5 437.8,265.2 447.1,251.0 449.2,236.8 450.7,222.5 455.4,208.2 464.7,194.0 475.2,179.8 481.0,165.5 488.8,151.2 501.8,137.0 516.9,122.8 525.0,108.5 538.8,94.2 545.3,80.0" fill="none" stroke="#ff8000" stroke-width="1"/>
<polyline points="149.4,365.0 174.4,350.8 258.8,336.5 317.4,322.2 378.8,308.0 388.4,293.8 423.4,279.5 428.3,265.2 439.3,251.0 445.3,236.8 452.7,222.5 456.9,208.2 457.4,194.0 470.0,179.8 478.2,165.5 480.5,151.2 494.0,137.0 505.4,122.8 519.4,108.5 535.8,94.2 542.6,80.0" fill="none" stroke="#ff8000" stroke-width="1"/>
<polyline points="149.6,365.0 241.8,350.8 370.1,336.5 411.5,322.2 427.8,308.0 445.4,293.8 453.8,279.5 457.8,265.2 466.5,251.0 469.0,236.8 473.7,222.5 488.4,208.2 491.6,194.0 503.5,179.8 505.8,165.5 517.4,151.2 520.8,137.0 529.4,122.8 544.5,108.5 555.0,94.2 558.4,80.0" fill="none" stroke="#ff8000" stroke-width="1"/>
<polyline points="150.3,365.0 177.9,350.8 241.8,336.5 315.0,322.2 341.0,308.0 416.1,293.8 422.4,279.5 439.2,265.2 444.5,251.0 453.2,236.8 459.7,222.5 466.7,208.2 468.7,194.0 476.6,179.8 486.2,165.5 494.5,151.2 498.9,137.0 523.6,122.8 532.6,108.5 545.7,94.2 555.6,80.0" fill="none" stroke="#ff8000" stroke-width="1"/>
<polyline points="151.6,365.0 223.1,350.8 283.8,336.5 327.9,322.2 389.7,308.0 406.2,293.8 433.1,279.5 440.1,265.2 451.5,251.0 458.2,236.8 467.1,222.5 470.0,208.2 475.2,194.0 481.4,179.8 488.5,165.5 500.5,151.2 512.2,137.0 523.7,122.8 536.6,108.5 544.2,94.2 557.7,80.0" fill="none" stroke="#ff8000" stroke-width="1"/>
<polyline points="152.6,365.0 257.2,350.8 319.3,336.5 369.0,322.2 427.4,308.0 439.8,293.8 442.7,279.5 450.9,265.2 455.0,251.0 460.3,236.8 462.2,222.5 467.6,208.2 476.7,194.0 486.5,179.8 490.9,165.5 500.0,151.2 510.0,137.0 522.5,122.8 532.8,108.5 543.0,94.2 551.1,80.0" fill="none" stroke="#ff8000" stroke-width="1"/>
<polyline points="153.5,365.0 173.5,350.8 220.0,336.5 245.8,322.2 256.3,308.0 337.8,293.8 371.2,279.5 433.4,265.2 440.9,251.0 451.5,236.8 457.4,222.5 469.7,208.2 483.3,194.0 490.2,179.8 507.9,165.5 515.9,151.2 540.7,137.0 545.4,122.8 548.5,108.5 558.0,94.2 566.1,80.0" fill="none" stroke="#ff8000" stroke-width="1"/>
<polyline points="154.0,365.0 275.5,350.8 371.5,336.5 389.4,322.2 417.2,308.0 438.9,293.8 454.6,279.5 468.0,265.2 472.0,251.0 474.2,236.8 478.2,222.5 489.2,208.2 494.9,194.0 499.0,179.8 503.7,165.5 518.7,151.2 533.5,137.0 541.2,122.8 545.4,108.5 554.5,94.2 560.0,80.0" fill="none" stroke="#ff8000" stroke-width="1"/>
<polyline points="155.3,365.0 274.2,350.8 278.2,336.5 324.7,322.2 364.5,308.0 397.2,293.8 430.8,279.5 438.3,265.2 454.0,251.0 464.2,236.8 467.5,222.5 471.4,208.2 482.8,194.0 496.2,179.8 503.8,165.5 508.0,151.2 510.9,137.0 521.4,122.8 540.1,108.5 556.0,94.2 559.7,80.0" fill="none" stroke="#ff8000" stroke-width="1"/>
<polyline points="156.0,365.0 220.2,350.8 274.9,336.5 295.4,322.2 318.9,308.0 358.9,293.8 414.6,279.5 450.5,265.2 465.8,251.0 471.3,236.8 481.2,222.5 498.4,208.2 502.3,194.0 505.1,179.8 527.4,165.5 534.4,151.2 544.6,137.0 549.7,122.8 557.3,108.5 562.8,94.2 569.1,80.0" fill="none" stroke="#ff8000" stroke-width="1"/>
<polyline points="157.2,365.0 277.1,350.8 301.9,336.5 355.6,322.2 395.7,308.0 409.5,293.8 445.8,279.5 455.9,265.2 464.5,251.0 468.8,236.8 472.1,222.5 475.9,208.2 485.9,194.0 492.3,179.8 500.1,165.5 508.1,151.2 520.9,137.0 529.9,122.8 539.1,108.5 553.8,94.2 557.9,80.0" fill="none" stroke="#ff8000" stroke-width="1"/>
<polyline points="158.1,365.0 205.0,350.8 283.6,336.5 367.8,322.2 410.4,308.0 445.4,293.8 452.6,279.5 469.0,265.2 473.7,251.0 477.5,236.8 481.6,222.5 487.3,208.2 498.3,194.0 505.6,179.8 509.0,165.5 521.3,151.2 526.7,137.0 544.2,122.8 546.7,108.5 552.1,94.2 561.6,80.0" fill="none" stroke="#ff8000" stroke-width="1"/>
<polyline points="159.0,365.0 183.9,350.8 208.3,336.5 252.4,322.2 292.6,308.0 347.5,293.8 373.5,279.5 408.4,265.2 428.7,251.0 447.3,236.8 459.0,222.5 465.9,208.2 470.7,194.0 476.5,179.8 488.0,165.5 493.2,151.2 508.6,137.0 521.4,122.8 529.6,108.5 542.7,94.2 557.9,80.0" fill="none" stroke="#ff8000" stroke-width="1"/>
<polyline points="159.4,365.0 236.3,350.8 272.5,336.5 353.4,322.2 391.1,308.0 427.5,293.8 447.3,279.5 461.6,265.2 466.7,251.0 471.1,236.8 476.7,222.5 485.3,208.2 488.1,194.0 492.4,179.8 494.2,165.5 509.4,151.2 522.3,137.0 529.9,122.8 539.4,108.5 550.1,94.2 558.2,80.0" fill="none" stroke="#ff8000" stroke-width="1"/>
<polyline points="160.8,365.0 232.1,350.8 303.7,336.5 358.3,322.2 400.0,308.0 426.9,293.8 454.2,279.5 459.7,265.2 471.6,251.0 482.5,236.8 487.7,222.5 501.3,208.2 505.6,194.0 513.5,179.8 518.0,165.5 529.3,151.2 531.7,137.0 547.7,122.8 551.1,108.5 559.6,94.2 564.1,80.0" fill="none" stroke="#ff8000" stroke-width="1"/>
<polyline points="161.4,365.0 322.4,350.8 398.1,336.5 413.2,322.2 457.1,308.0 462.7,293.8 474.6,279.5 483.7,265.2 491.4,251.0 500.7,236.8 511.6,222.5 519.0,208.2 524.2,194.0 531.7,179.8 541.1,165.5 544.2,151.2 550.9,137.0 555.4,122.8 558.9,108.5 563.8,94.2 567.1,80.0" fill="none" stroke="#ff8000" stroke-width="1"/>
<polyline points="162.7,365.0 221.2,350.8 250.6,336.5 295.4,322.2 340.4,308.0 403.8,293.8 416.2,279.5 433.7,265.2 452.6,251.0 474.0,236.8 477.7,222.5 496.8,208.2 504.0,194.0 520.7,179.8 524.3,165.5 533.0,151.2 545.0,137.0 548.7,122.8 555.4,108.5 562.5,94.2 567.6,80.0" fill="none" stroke="#ff8000" stroke-width="1"/>
<polyline points="162.8,365.0 269.3,350.8 316.0,336.5 402.2,322.2 428.3,308.0 458.2,293.8 472.6,279.5 485.8,265.2 497.6,251.0 502.6,236.8 509.7,222.5 516.3,208.2 528.0,194.0 532.7,179.8 542.6,165.5 548.2,151.2 554.8,137.0 559.5,122.8 561.7,108.5 565.1,94.2 569.7,80.0" fill="none" stroke="#ff8000" stroke-width="1"/>
<polyline points="163.7,365.0 239.2,350.8 301.5,336.5 337.0,322.2 357.9,308.0 410.6,293.8 444.1,279.5 475.2,265.2 478.4,251.0 487.9,236.8 495.8,222.5 507.6,208.2 517.5,194.0 522.1,179.8 534.7,165.5 542.7,151.2 555.9,137.0 558.1,122.8 560.1,108.5 567.5,94.2 570.0,80.0" fill="none" stroke="#ff8000" stroke-width="1"/>
<polyline points="165.4,365.0 211.9,350.8 259.7,336.5 296.0,322.2 350.1,308.0 403.6,293.8 419.9,279.5 458.6,265.2 468.1,251.0 479.7,236.8 483.7,222.5 492.6,208.2 511.4,194.0 518.6,179.8 525.4,165.5 539.1,151.2 550.3,137.0 556.3,122.8 559.4,108.5 565.1,94.2 570.5,80.0" fill="none" stroke="#ff8000" stroke-width="1"/>
<polyline points="165.8,365.0 386.9,350.8 429.5,336.5 442.3,322.2 463.3,308.0 480.1,293.8 483.4,279.5 489.5,265.2 498.7,251.0 502.2,236.8 505.6,222.5 513.6,208.2 517.9,194.0 520.0,179.8 526.7,165.5 533.1,151.2 540.5,137.0 543.2,122.8 550.3,108.5 558.8,94.2 560.7,80.0" fill="none" stroke="#ff8000" stroke-width="1"/>
<polyline points="166.7,365.0 373.4,350.8 417.1,336.5 469.5,322.2 478.4,308.0 495.9,293.8 504.7,279.5 511.9,265.2 517.6,251.0 529.2,236.8 536.2,222.5 539.6,208.2 546.6,194.0 551.5,179.8 556.3,165.5 557.9,151.2 562.5,137.0 565.3,122.8 567.1,108.5 570.1,94.2 572.2,80.0" fill="none" stroke="#ff8000" stroke-width="1"/>
<polyline points="168.1,365.0 180.3,350.8 187.6,336.5 266.9,322.2 315.2,308.0 357.4,293.8 398.6,279.5 416.3,265.2 457.2,251.0 478.8,236.8 499.4,222.5 510.4,208.2 515.4,194.0 525.2,179.8 536.5,165.5 545.5,151.2 549.5,137.0 559.3,122.8 565.3,108.5 569.9,94.2 575.8,80.0" fill="none" stroke="#ff8000" stroke-width="1"/>
<polyline points="169.1,365.0 188.2,350.8 196.6,336.5 311.4,322.2 346.2,308.0 395.6,293.8 432.3,279.5 454.4,265.2 479.8,251.0 488.5,236.8 501.2,222.5 515.1,208.2 519.5,194.0 526.8,179.8 537.6,165.5 544.5,151.2 552.3,137.0 559.4,122.8 562.3,108.5 565.9,94.2 572.2,80.0" fill="none" stroke="#ff8000" stroke-width="1"/>
<polyline points="169.1,365.0 271.4,350.8 380.2,336.5 414.5,322.2 471.7,308.0 477.1,293.8 486.8,279.5 505.5,265.2 511.8,251.0 518.9,236.8 534.8,222.5 536.5,208.2 542.9,194.0 546.0,179.8 553.9,165.5 559.1,151.2 561.6,137.0 567.3,122.8 570.0,108.5 572.9,94.2 576.4,80.0" fill="none" stroke="#ff8000" stroke-width="1"/>
<polyline points="170.5,365.0 294.3,350.8 367.8,336.5 422.9,322.2 445.6,308.0 481.1,293.8 491.0,279.5 496.3,265.2 508.3,251.0 522.0,236.8 531.2,222.5 536.4,208.2 544.6,194.0 552.5,179.8 558.6,165.5 559.7,151.2 562.1,137.0 567.3,122.8 570.2,108.5 573.6,94.2 576.3,80.0" fill="none" stroke="#ff8000" stroke-width="1"/>
<polyline points="171.4,365.0 210.8,350.8 250.5,336.5 352.8,322.2 406.1,308.0 416.7,293.8 453.7,279.5 470.7,265.2 486.3,251.0 491.9,236.8 501.9,222.5 510.9,208.2 517.1,194.0 524.5,179.8 533.1,165.5 539.1,151.2 546.2,137.0 551.5,122.8 554.8,108.5 560.9,94.2 565.8,80.0" fill="none" stroke="#ff8000" stroke-width="1"/>
<polyline points="172.2,365.0 316.1,350.8 422.6,336.5 441.0,322.2 476.2,308.0 487.1,293.8 499.9,279.5 506.4,265.2 517.9,251.0 527.8,236.8 536.7,222.5 540.2,208.2 546.7,194.0 554.4,179.8 556.7,165.5 559.9,151.2 561.4,137.0 566.6,122.8 569.5,108.5 571.5,94.2 575.1,80.0" fill="none" stroke="#ff8000" stroke-width="1"/>
<polyline points="173.1,365.0 319.5,350.8 371.3,336.5 417.4,322.2 450.3,308.0 473.6,293.8 490.4,279.5 501.0,265.2 516.0,251.0 521.3,236.8 539.6,222.5 543.3,208.2 543.9,194.0 545.2,179.8 554.4,165.5 558.8,151.2 561.4,137.0 568.6,122.8 569.2,108.5 572.2,94.2 575.4,80.0" fill="none" stroke="#ff8000" stroke-width="1"/>
<polyline points="174.4,365.0 226.5,350.8 282.5,336.5 400.7,322.2 446.9,308.0 482.3,293.8 490.0,279.5 499.4,265.2 509.9,251.0 524.9,236.8 536.0,222.5 548.2,208.2 551.1,194.0 555.6,179.8 557.3,165.5 565.0,151.2 568.8,137.0 573.8,122.8 574.7,108.5 576.2,94.2 580.5,80.0" fill="none" stroke="#ff8000" stroke-width="1"/>
<polyline points="174.8,365.0 260.5,350.8 330.8,336.5 368.5,322.2 422.0,308.0 463.0,293.8 471.0,279.5 489.7,265.2 504.8,251.0 511.8,236.8 524.2,222.5 530.5,208.2 540.7,194.0 542.7,179.8 545.1,165.5 557.2,151.2 562.3,137.0 564.0,122.8 569.2,108.5 574.8,94.2 576.4,80.0" fill="none" stroke="#ff8000" stroke-width="1"/>
<polyline points="176.2,365.0 197.1,350.8 286.6,336.5 348.8,322.2 413.2,308.0 444.0,293.8 459.4,279.5 465.9,265.2 501.7,251.0 508.7,236.8 512.3,222.5 525.3,208.2 538.0,194.0 539.8,179.8 547.7,165.5 556.3,151.2 558.6,137.0 567.7,122.8 569.1,108.5 571.2,94.2 576.6,80.0" fill="none" stroke="#ff8000" stroke-width="1"/>
<polyline points="176.6,365.0 309.9,350.8 339.7,336.5 397.5,322.2 423.2,308.0 456.9,293.8 485.5,279.5 490.3,265.2 507.3,251.0 516.4,236.8 520.1,222.5 528.0,208.2 539.9,194.0 548.4,179.8 551.9,165.5 555.4,151.2 558.8,137.0 560.3,122.8 566.3,108.5 570.8,94.2 573.2,80.0" fill="none" stroke="#ff8000" stroke-width="1"/>
<polyline points="177.9,365.0 222.1,350.8 326.0,336.5 392.1,322.2 397.6,308.0 454.9,293.8 486.3,279.5 508.4,265.2 517.6,251.0 519.0,236.8 525.5,222.5 530.0,208.2 544.0,194.0 551.7,179.8 554.6,165.5 558.6,151.2 561.8,137.0 566.9,122.8 569.0,108.5 573.9,94.2 575.5,80.0" fill="none" stroke="#ff8000" stroke-width="1"/>
<polyline points="178.7,365.0 199.2,350.8 311.4,336.5 371.1,322.2 425.8,308.0 462.3,293.8 473.6,279.5 490.9,265.2 505.1,251.0 516.9,236.8 519.9,222.5 542.2,208.2 545.7,194.0 547.1,179.8 553.3,165.5 560.4,151.2 566.0,137.0 568.7,122.8 571.4,108.5 574.5,94.2 577.9,80.0" fill="none" stroke="#ff8000" stroke-width="1"/>
<polyline points="179.2,365.0 299.7,350.8 398.2,336.5 452.8,322.2 463.4,308.0 487.2,293.8 511.7,279.5 516.6,265.2 523.8,251.0 539.2,236.8 543.8,222.5 549.2,208.2 555.3,194.0 561.5,179.8 564.1,165.5 565.5,151.2 570.3,137.0 572.7,122.8 573.3,108.5 573.7,94.2 578.0,80.0" fill="none" stroke="#ff8000" stroke-width="1"/>
<polyline points="181.3,365.0 215.1,350.8 255.5,336.5 276.7,322.2 302.8,308.0 383.1,293.8 410.7,279.5 441.1,265.2 474.5,251.0 493.8,236.8 511.1,222.5 526.8,208.2 529.2,194.0 546.2,179.8 549.2,165.5 555.5,151.2 564.3,137.0 565.7,122.8 570.2,108.5 575.2,94.2 578.7,80.0" fill="none" stroke="#ff8000" stroke-width="1"/>
<polyline points="183.0,365.0 216.3,350.8 364.9,336.5 414.3,322.2 482.8,308.0 492.7,293.8 503.7,279.5 520.3,265.2 528.5,251.0 535.8,236.8 543.2,222.5 553.1,208.2 558.1,194.0 564.5,179.8 565.6,165.5 569.1,151.2 572.5,137.0 575.4,122.8 577.0,108.5 580.4,94.2 582.1,80.0" fill="none" stroke="#ff8000" stroke-width="1"/>
<polyline points="183.7,365.0 342.7,350.8 438.0,336.5 473.1,322.2 503.9,308.0 516.6,293.8 524.6,279.5 533.9,265.2 545.7,251.0 549.6,236.8 555.6,222.5 559.3,208.2 561.7,194.0 568.5,179.8 569.3,165.5 570.0,151.2 573.7,137.0 576.0,122.8 576.5,108.5 579.0,94.2 580.5,80.0" fill="none" stroke="#ff8000" stroke-width="1"/>
<polyline points="186.3,365.0 205.5,350.8 296.8,336.5 353.0,322.2 397.3,308.0 455.4,293.8 466.4,279.5 498.8,265.2 505.0,251.0 514.8,236.8 528.7,222.5 532.6,208.2 542.1,194.0 546.5,179.8 550.3,165.5 557.9,151.2 562.0,137.0 563.8,122.8 569.2,108.5 574.3,94.2 576.3,80.0" fill="none" stroke="#ff8000" stroke-width="1"/>
<polyline points="186.7,365.0 190.3,350.8 233.2,336.5 359.1,322.2 397.0,308.0 432.7,293.8 469.5,279.5 488.0,265.2 495.2,251.0 516.3,236.8 529.1,222.5 536.5,208.2 542.9,194.0 554.0,179.8 555.7,165.5 558.1,151.2 562.2,137.0 567.6,122.8 569.1,108.5 571.5,94.2 576.1,80.0" fill="none" stroke="#ff8000" stroke-width="1"/>
<polyline points="188.2,365.0 277.7,350.8 330.3,336.5 423.1,322.2 480.4,308.0 486.2,293.8 507.9,279.5 525.5,265.2 528.6,251.0 536.8,236.8 545.4,222.5 551.7,208.2 557.0,194.0 560.3,179.8 565.6,165.5 567.1,151.2 570.1,137.0 571.6,122.8 574.8,108.5 577.9,94.2 579.8,80.0" fill="none" stroke="#ff8000" stroke-width="1"/>
<polyline points="189.7,365.0 275.9,350.8 422.1,336.5 460.2,322.2 506.6,308.0 514.6,293.8 523.3,279.5 536.7,265.2 544.7,251.0 548.6,236.8 553.2,222.5 559.1,208.2 563.6,194.0 564.6,179.8 570.5,165.5 571.9,151.2 573.9,137.0 574.8,122.8 578.3,108.5 580.8,94.2 582.4,80.0" fill="none" stroke="#ff8000" stroke-width="1"/>
<polyline points="192.5,365.0 253.2,350.8 300.1,336.5 377.0,322.2 430.1,308.0 476.2,293.8 485.8,279.5 510.2,265.2 520.0,251.0 529.9,236.8 533.5,222.5 544.1,208.2 553.6,194.0 556.0,179.8 562.9,165.5 565.8,151.2 568.7,137.0 569.6,122.8 574.6,108.5 576.4,94.2 580.3,80.0" fill="none" stroke="#ff8000" stroke-width="1"/>
<polyline points="194.3,365.0 234.5,350.8 280.3,336.5 405.2,322.2 470.6,308.0 500.6,293.8 513.7,279.5 530.3,265.2 545.1,251.0 551.9,236.8 557.4,222.5 566.4,208.2 573.3,194.0 574.8,179.8 578.9,165.5 581.0,151.2 582.5,137.0 585.7,122.8 586.8,108.5 589.2,94.2 590.6,80.0" fill="none" stroke="#ff8000" stroke-width="1"/>
<polyline points="195.8,365.0 223.1,350.8 267.8,336.5 377.0,322.2 410.3,308.0 465.3,293.8 494.4,279.5 515.1,265.2 529.0,251.0 542.8,236.8 548.7,222.5 551.3,208.2 565.0,194.0 570.6,179.8 572.4,165.5 575.6,151.2 578.9,137.0 579.7,122.8 582.5,108.5 585.9,94.2 587.1,80.0" fill="none" stroke="#ff8000" stroke-width="1"/>
<polyline points="196.2,365.0 339.2,350.8 388.9,336.5 418.1,322.2 440.3,308.0 498.8,293.8 515.8,279.5 520.1,265.2 531.2,251.0 543.0,236.8 550.5,222.5 558.0,208.2 562.4,194.0 566.7,179.8 569.3,165.5 570.9,151.2 573.1,137.0 574.7,122.8 577.7,108.5 578.8,94.2 582.3,80.0" fill="none" stroke="#ff8000" stroke-width="1"/>
<polyline points="198.8,365.0 383.0,350.8 441.5,336.5 449.1,322.2 501.8,308.0 512.4,293.8 536.0,279.5 543.4,265.2 550.0,251.0 561.7,236.8 570.9,222.5 575.5,208.2 576.9,194.0 578.3,179.8 581.9,165.5 582.8,151.2 584.3,137.0 586.3,122.8 587.5,108.5 589.7,94.2 590.8,80.0" fill="none" stroke="#ff8000" stroke-width="1"/>
<polyline points="200.0,365.0 379.9,350.8 431.6,336.5 472.9,322.2 518.8,308.0 531.6,293.8 535.6,279.5 543.2,265.2 549.1,251.0 556.9,236.8 564.3,222.5 566.6,208.2 569.2,194.0 571.2,179.8 573.0,165.5 575.4,151.2 575.6,137.0 578.8,122.8 580.5,108.5 582.1,94.2 584.0,80.0" fill="none" stroke="#ff8000" stroke-width="1"/>
<polyline points="202.6,365.0 235.3,350.8 321.6,336.5 396.9,322.2 462.5,308.0 487.5,293.8 511.5,279.5 525.1,265.2 537.4,251.0 555.6,236.8 561.8,222.5 572.9,208.2 574.2,194.0 577.9,179.8 581.0,165.5 581.6,151.2 584.6,137.0 585.7,122.8 586.8,108.5 589.4,94.2 590.5,80.0" fill="none" stroke="#ff8000" stroke-width="1"/>
<polyline points="204.0,365.0 337.4,350.8 382.3,336.5 482.9,322.2 499.4,308.0 536.1,293.8 545.5,279.5 556.7,265.2 562.7,251.0 565.3,236.8 570.7,222.5 573.9,208.2 575.8,194.0 578.2,179.8 579.4,165.5 580.8,151.2 581.4,137.0 584.6,122.8 584.9,108.5 585.6,94.2 587.9,80.0" fill="none" stroke="#ff8000" stroke-width="1"/>
<polyline points="205.2,365.0 344.8,350.8 476.1,336.5 494.7,322.2 531.3,308.0 541.8,293.8 549.3,279.5 554.2,265.2 559.1,251.0 566.0,236.8 571.2,222.5 573.7,208.2 574.1,194.0 575.0,179.8 577.4,165.5 578.7,151.2 579.5,137.0 580.7,122.8 582.6,108.5 583.5,94.2 585.5,80.0" fill="none" stroke="#ff8000" stroke-width="1"/>
<polyline points="206.7,365.0 253.4,350.8 339.9,336.5 440.0,322.2 477.5,308.0 505.1,293.8 537.3,279.5 543.8,265.2 558.4,251.0 560.3,236.8 567.0,222.5 571.1,208.2 575.0,194.0 575.9,179.8 578.2,165.5 580.2,151.2 581.4,137.0 583.9,122.8 584.6,108.5 585.4,94.2 587.9,80.0" fill="none" stroke="#ff8000" stroke-width="1"/>
<polyline points="208.9,365.0 392.2,350.8 406.6,336.5 494.7,322.2 547.9,308.0 554.2,293.8 555.7,279.5 562.7,265.2 566.5,251.0 571.2,236.8 574.6,222.5 577.3,208.2 578.4,194.0 579.5,179.8 581.1,165.5 582.2,151.2 584.8,137.0 585.5,122.8 585.5,108.5 586.2,94.2 588.1,80.0" fill="none" stroke="#ff8000" stroke-width="1"/>
<polyline points="209.1,365.0 319.0,350.8 427.4,336.5 494.7,322.2 514.2,308.0 552.4,293.8 557.3,279.5 560.4,265.2 568.6,251.0 573.8,236.8 579.0,222.5 581.6,208.2 581.8,194.0 582.9,179.8 585.0,165.5 585.8,151.2 586.8,137.0 588.0,122.8 589.1,108.5 590.1,94.2 591.6,80.0" fill="none" stroke="#ff8000" stroke-width="1"/>
<polyline points="211.5,365.0 307.8,350.8 350.9,336.5 494.7,322.2 515.4,308.0 540.8,293.8 566.8,279.5 574.4,265.2 580.6,251.0 582.9,236.8 585.3,222.5 588.5,208.2 590.2,194.0 592.6,179.8 593.1,165.5 594.0,151.2 595.7,137.0 596.3,122.8 596.7,108.5 597.7,94.2 599.0,80.0" fill="none" stroke="#ff8000" stroke-width="1"/>
<polyline points="213.9,365.0 329.9,350.8 420.5,336.5 494.7,322.2 538.8,308.0 566.4,293.8 571.6,279.5 577.9,265.2 581.3,251.0 582.9,236.8 583.2,222.5 584.8,208.2 586.7,194.0 588.3,179.8 588.8,165.5 589.6,151.2 590.5,137.0 591.0,122.8 592.0,108.5 593.2,94.2 594.1,80.0" fill="none" stroke="#ff8000" stroke-width="1"/>
<polyline points="214.8,365.0 301.2,350.8 319.6,336.5 430.9,322.2 476.9,308.0 529.6,293.8 534.7,279.5 557.3,265.2 559.0,251.0 562.2,236.8 568.9,222.5 573.2,208.2 575.9,194.0 576.5,179.8 578.0,165.5 579.9,151.2 581.8,137.0 582.9,122.8 583.8,108.5 586.2,94.2 587.0,80.0" fill="none" stroke="#ff8000" stroke-width="1"/>
<polyline points="216.2,365.0 272.0,350.8 403.8,336.5 446.9,322.2 487.1,308.0 508.6,293.8 539.6,279.5 550.2,265.2 555.2,251.0 556.9,236.8 561.9,222.5 565.8,208.2 568.8,194.0 569.2,179.8 572.4,165.5 573.2,151.2 573.3,137.0 575.4,122.8 577.6,108.5 578.6,94.2 581.3,80.0" fill="none" stroke="#ff8000" stroke-width="1"/>
<polyline points="217.8,365.0 339.2,350.8 433.9,336.5 463.0,322.2 501.7,308.0 515.7,293.8 566.4,279.5 571.9,265.2 581.6,251.0 584.0,236.8 587.9,222.5 589.6,208.2 591.5,194.0 592.1,179.8 593.7,165.5 594.7,151.2 596.2,137.0 596.7,122.8 596.9,108.5 597.3,94.2 599.0,80.0" fill="none" stroke="#ff8000" stroke-width="1"/>
<polyline points="220.5,365.0 250.3,350.8 337.4,336.5 388.0,322.2 422.5,308.0 501.5,293.8 515.5,279.5 538.6,265.2 553.4,251.0 563.3,236.8 569.2,222.5 571.4,208.2 576.1,194.0 579.1,179.8 580.1,165.5 582.2,151.2 583.0,137.0 584.0,122.8 585.9,108.5 588.1,94.2 589.1,80.0" fill="none" stroke="#ff8000" stroke-width="1"/>
<polyline points="221.1,365.0 364.3,350.8 442.4,336.5 492.9,322.2 517.6,308.0 568.9,293.8 569.9,279.5 575.0,265.2 577.8,251.0 583.2,236.8 586.2,222.5 588.7,208.2 589.1,194.0 589.7,179.8 590.2,165.5 591.8,151.2 592.5,137.0 593.0,122.8 593.9,108.5 595.1,94.2 595.9,80.0" fill="none" stroke="#ff8000" stroke-width="1"/>
<polyline points="226.8,365.0 259.9,350.8 429.2,336.5 444.1,322.2 451.1,308.0 509.5,293.8 550.7,279.5 561.8,265.2 574.6,251.0 578.3,236.8 579.6,222.5 581.7,208.2 586.2,194.0 587.3,179.8 588.3,165.5 588.9,151.2 589.4,137.0 590.3,122.8 591.3,108.5 591.6,94.2 593.6,80.0" fill="none" stroke="#ff8000" stroke-width="1"/>
<polyline points="231.1,365.0 254.6,350.8 291.5,336.5 408.0,322.2 444.5,308.0 466.8,293.8 539.8,279.5 553.2,265.2 581.8,251.0 584.8,236.8 588.9,222.5 590.9,208.2 592.2,194.0 594.7,179.8 595.0,165.5 595.3,151.2 596.1,137.0 596.4,122.8 597.1,108.5 597.5,94.2 599.0,80.0" fill="none" stroke="#ff8000" stroke-width="1"/>
<polyline points="232.6,365.0 332.5,350.8 390.2,336.5 488.9,322.2 528.9,308.0 561.2,293.8 575.3,279.5 579.6,265.2 583.3,251.0 586.4,236.8 588.1,222.5 590.0,208.2 591.3,194.0 591.6,179.8 592.5,165.5 593.3,151.2 593.8,137.0 594.2,122.8 594.9,108.5 596.5,94.2 596.7,80.0" fill="none" stroke="#ff8000" stroke-width="1"/>
<polyline points="236.3,365.0 253.7,350.8 314.8,336.5 391.5,322.2 469.6,308.0 488.7,293.8 526.5,279.5 548.4,265.2 570.8,251.0 576.4,236.8 580.6,222.5 584.2,208.2 585.5,194.0 588.4,179.8 589.0,165.5 589.5,151.2 590.2,137.0 591.3,122.8 591.9,108.5 592.1,94.2 594.2,80.0" fill="none" stroke="#ff8000" stroke-width="1"/>
<polyline points="241.9,365.0 296.6,350.8 430.3,336.5 494.7,322.2 534.2,308.0 582.2,293.8 588.1,279.5 590.3,265.2 592.8,251.0 593.8,236.8 595.0,222.5 595.2,208.2 595.4,194.0 595.8,179.8 595.8,165.5 596.4,151.2 596.6,137.0 596.9,122.8 597.3,108.5 597.6,94.2 598.7,80.0" fill="none" stroke="#ff8000" stroke-width="1"/>
<polyline points="243.0,365.0 384.5,350.8 421.9,336.5 494.7,322.2 527.6,308.0 554.5,293.8 585.7,279.5 587.5,265.2 589.6,251.0 592.1,236.8 593.9,222.5 594.5,208.2 594.8,194.0 594.8,179.8 595.1,165.5 596.0,151.2 596.4,137.0 596.7,122.8 596.9,108.5 597.2,94.2 598.4,80.0" fill="none" stroke="#ff8000" stroke-width="1"/>
<polyline points="247.4,365.0 303.8,350.8 459.8,336.5 472.9,322.2 499.2,308.0 551.3,293.8 570.0,279.5 579.2,265.2 583.2,251.0 586.4,236.8 589.7,222.5 590.0,208.2 590.4,194.0 590.6,179.8 591.2,165.5 591.6,151.2 592.1,137.0 592.7,122.8 592.9,108.5 593.8,94.2 594.6,80.0" fill="none" stroke="#ff8000" stroke-width="1"/>
<polyline points="229.3,365.0 342.1,357.9 382.7,350.8 407.8,343.6 438.9,336.5 463.6,329.4 497.8,322.2 521.4,315.1 545.4,308.0 558.1,300.9 567.1,293.8 579.5,286.6 585.4,279.5 589.2,272.4 593.0,265.2 596.0,258.1 596.7,251.0 597.3,243.9 598.0,236.8 598.5,229.6 598.6,222.5 598.7,215.4 598.8,208.2 598.9,201.1 599.0,194.0 599.1,186.9 599.2,179.8 599.3,172.6 599.4,165.5 599.5,158.4 599.6,151.2 599.6,144.1 599.7,137.0 599.8,129.9 599.9,122.8 600.0,115.6 600.1,108.5 600.2,101.4 600.3,94.2 600.3,87.1 600.4,80.0" fill="none" stroke="#ff8000" stroke-width="1"/>
<polyline points="245.2,365.0 350.3,357.9 388.5,350.8 425.2,343.6 455.0,336.5 482.5,329.4 522.9,322.2 538.6,315.1 554.6,308.0 566.5,300.9 575.6,293.8 584.5,286.6 589.0,279.5 591.6,272.4 594.5,265.2 597.4,258.1 598.0,251.0 598.5,243.9 598.9,236.8 599.5,229.6 599.6,222.5 599.7,215.4 599.8,208.2 599.9,201.1 599.9,194.0 600.0,186.9 600.1,179.8 600.2,172.6 600.3,165.5 600.3,158.4 600.4,151.2 600.5,144.1 600.6,137.0 600.7,129.9 600.8,122.8 600.8,115.6 600.9,108.5 600.9,101.4 601.0,94.2 601.1,87.1 601.1,80.0" fill="none" stroke="#ff8000" stroke-width="1"/>
<polyline points="255.2,365.0 354.5,357.9 385.7,350.8 428.6,343.6 456.9,336.5 481.1,329.4 500.6,322.2 528.4,315.1 552.3,308.0 566.3,300.9 572.8,293.8 582.6,286.6 587.1,279.5 590.4,272.4 593.5,265.2 596.4,258.1 597.0,251.0 597.5,243.9 598.1,236.8 598.7,229.6 598.7,222.5 598.8,215.4 598.8,208.2 598.9,201.1 598.9,194.0 599.0,186.9 599.1,179.8 599.1,172.6 599.2,165.5 599.3,158.4 599.4,151.2 599.4,144.1 599.5,137.0 599.5,129.9 599.6,122.8 599.7,115.6 599.8,108.5 599.8,101.4 599.9,94.2 600.0,87.1 600.1,80.0" fill="none" stroke="#ff8000" stroke-width="1"/>
<polyline points="268.4,365.0 361.4,357.9 412.4,350.8 441.2,343.6 470.4,336.5 498.6,329.4 519.1,322.2 534.6,315.1 560.1,308.0 573.0,300.9 578.2,293.8 585.9,286.6 590.2,279.5 592.6,272.4 595.5,265.2 597.7,258.1 598.1,251.0 598.6,243.9 599.0,236.8 599.5,229.6 599.5,222.5 599.6,215.4 599.6,208.2 599.7,201.1 599.8,194.0 599.8,186.9 599.9,179.8 599.9,172.6 600.0,165.5 600.0,158.4 600.1,151.2 600.1,144.1 600.2,137.0 600.3,129.9 600.3,122.8 600.4,115.6 600.5,108.5 600.5,101.4 600.6,94.2 600.7,87.1 600.7,80.0" fill="none" stroke="#ff8000" stroke-width="1"/>
<polyline points="295.2,365.0 356.2,357.9 407.5,350.8 452.5,343.6 495.8,336.5 525.3,329.4 551.5,322.2 562.8,315.1 574.0,308.0 581.2,300.9 587.8,293.8 592.6,286.6 595.4,279.5 596.9,272.4 598.4,265.2 599.8,258.1 600.0,251.0 600.3,243.9 600.5,236.8 600.8,229.6 600.8,222.5 600.8,215.4 600.9,208.2 600.9,201.1 601.0,194.0 601.0,186.9 601.1,179.8 601.1,172.6 601.2,165.5 601.2,158.4 601.3,151.2 601.3,144.1 601.3,137.0 601.4,129.9 601.4,122.8 601.4,115.6 601.5,108.5 601.5,101.4 601.5,94.2 601.6,87.1 601.6,80.0" fill="none" stroke="#ff8000" stroke-width="1"/>
<polyline points="313.6,365.0 379.3,357.9 427.1,350.8 469.0,343.6 506.7,336.5 527.2,329.4 548.7,322.2 563.2,315.1 577.0,308.0 584.8,300.9 588.3,293.8 592.8,286.6 595.7,279.5 596.7,272.4 598.3,265.2 599.5,258.1 599.8,251.0 600.0,243.9 600.2,236.8 600.5,229.6 600.5,222.5 600.5,215.4 600.5,208.2 600.6,201.1 600.6,194.0 600.6,186.9 600.6,179.8 600.6,172.6 600.7,165.5 600.7,158.4 600.7,151.2 600.7,144.1 600.8,137.0 600.8,129.9 600.8,122.8 600.9,115.6 600.9,108.5 600.9,101.4 600.9,94.2 601.0,87.1 601.0,80.0" fill="none" stroke="#ff8000" stroke-width="1"/>
<polyline points="330.3,365.0 388.4,357.9 426.2,350.8 482.5,343.6 524.9,336.5 540.7,329.4 565.1,322.2 581.3,315.1 588.0,308.0 592.5,300.9 596.0,293.8 598.8,286.6 600.1,279.5 600.6,272.4 601.0,265.2 601.4,258.1 601.5,251.0 601.6,243.9 601.6,236.8 601.7,229.6 601.7,222.5 601.7,215.4 601.8,208.2 601.8,201.1 601.8,194.0 601.8,186.9 601.8,179.8 601.9,172.6 601.9,165.5 601.9,158.4 601.9,151.2 601.9,144.1 601.9,137.0 601.9,129.9 601.9,122.8 602.0,115.6 602.0,108.5 602.0,101.4 602.0,94.2 602.0,87.1 602.0,80.0" fill="none" stroke="#ff8000" stroke-width="1"/>
<polyline points="347.6,365.0 403.5,357.9 465.1,350.8 501.0,343.6 535.8,336.5 553.5,329.4 576.5,322.2 583.5,315.1 591.5,308.0 595.7,300.9 597.8,293.8 599.8,286.6 600.7,279.5 600.9,272.4 601.2,265.2 601.4,258.1 601.5,251.0 601.5,243.9 601.5,236.8 601.6,229.6 601.6,222.5 601.6,215.4 601.6,208.2 601.6,201.1 601.6,194.0 601.6,186.9 601.6,179.8 601.6,172.6 601.6,165.5 601.6,158.4 601.6,151.2 601.6,144.1 601.6,137.0 601.6,129.9 601.6,122.8 601.6,115.6 601.6,108.5 601.6,101.4 601.6,94.2 601.6,87.1 601.6,80.0" fill="none" stroke="#ff8000" stroke-width="1"/>
<polyline points="141.0,365.0 178.1,357.9 201.0,350.8 221.7,343.6 253.6,336.5 263.2,329.4 280.8,322.2 324.7,315.1 361.3,308.0 370.4,300.9 398.3,293.8 423.5,286.6 449.2,279.5 472.9,272.4 491.7,265.2 502.7,258.1 511.6,251.0 530.8,243.9 540.1,236.8 549.2,229.6 563.0,222.5 570.6,215.4" fill="none" stroke="#ff8000" stroke-width="1"/>
<polyline points="141.5,365.0 166.4,357.9 222.2,350.8 232.8,343.6 254.5,336.5 274.3,329.4 298.5,322.2 324.9,315.1 362.0,308.0 392.6,300.9 418.7,293.8 428.5,286.6 449.7,279.5 456.9,272.4 465.2,265.2 489.3,258.1 511.9,251.0 535.2,243.9 542.5,236.8 550.7,229.6" fill="none" stroke="#ff8000" stroke-width="1"/>
<polyline points="143.2,365.0 193.8,357.9 213.3,350.8 233.7,343.6 257.6,336.5 275.2,329.4 300.2,322.2 333.8,315.1 364.8,308.0 392.5,300.9 410.3,293.8 430.8,286.6 452.1,279.5 465.1,272.4 483.0,265.2 501.3,258.1 513.6,251.0 528.9,243.9 542.5,236.8 550.2,229.6" fill="none" stroke="#ff8000" stroke-width="1"/>
<polyline points="145.0,365.0 173.3,357.9 201.3,350.8 223.0,343.6 260.4,336.5 291.9,329.4 323.3,322.2 348.4,315.1 366.6,308.0 415.9,300.9 434.1,293.8 444.3,286.6 453.2,279.5 460.0,272.4 482.2,265.2 501.1,258.1 514.0,251.0 525.1,243.9 538.7,236.8 553.9,229.6 563.8,222.5 573.1,215.4" fill="none" stroke="#ff8000" stroke-width="1"/>
<polyline points="145.4,365.0 168.7,357.9 185.9,350.8 243.8,343.6 265.5,336.5 296.8,329.4 328.6,322.2 353.8,315.1 375.0,308.0 407.3,300.9 431.4,293.8 442.7,286.6 463.5,279.5 486.1,272.4 508.4,265.2 513.9,258.1 523.6,251.0 539.5,243.9 549.1,236.8 560.2,229.6 569.0,222.5 576.5,215.4 581.7,208.2" fill="none" stroke="#ff8000" stroke-width="1"/>
<polyline points="147.4,365.0 178.7,357.9 202.3,350.8 228.5,343.6 265.0,336.5 292.8,329.4 314.9,322.2 337.4,315.1 370.8,308.0 409.7,300.9 424.6,293.8 440.1,286.6 456.8,279.5 471.7,272.4 476.9,265.2 498.0,258.1 516.7,251.0 535.1,243.9 540.9,236.8 553.7,229.6 565.0,222.5 574.3,215.4" fill="none" stroke="#ff8000" stroke-width="1"/>
<polyline points="148.8,365.0 175.4,357.9 212.1,350.8 245.0,343.6 271.4,336.5 300.8,329.4 340.8,322.2 365.0,315.1 379.7,308.0 404.2,300.9 427.3,293.8 438.9,286.6 467.0,279.5 482.4,272.4 502.0,265.2 513.2,258.1 525.7,251.0 534.1,243.9 545.7,236.8 562.1,229.6" fill="none" stroke="#ff8000" stroke-width="1"/>
<polyline points="150.5,365.0 183.4,357.9 205.3,350.8 232.2,343.6 273.9,336.5 300.2,329.4 321.6,322.2 352.1,315.1 381.4,308.0 398.1,300.9 422.7,293.8 434.5,286.6 468.0,279.5 491.5,272.4 509.6,265.2 516.8,258.1 526.1,251.0 539.6,243.9 558.2,236.8 565.1,229.6 569.8,222.5" fill="none" stroke="#ff8000" stroke-width="1"/>
<polyline points="151.5,365.0 179.6,357.9 228.8,350.8 249.4,343.6 279.7,336.5 310.2,329.4 325.2,322.2 347.2,315.1 389.8,308.0 415.4,300.9 447.4,293.8 459.5,286.6 477.9,279.5 498.1,272.4 512.0,265.2 525.4,258.1 535.1,251.0 545.7,243.9 554.0,236.8 566.6,229.6 574.5,222.5" fill="none" stroke="#ff8000" stroke-width="1"/>
<polyline points="152.2,365.0 204.7,357.9 235.2,350.8 265.2,343.6 275.7,336.5 312.1,329.4 336.7,322.2 367.5,315.1 381.7,308.0 422.0,300.9 440.5,293.8 459.4,286.6 467.3,279.5 481.7,272.4 503.8,265.2 518.6,258.1 524.9,251.0 538.4,243.9 547.3,236.8 556.0,229.6" fill="none" stroke="#ff8000" stroke-width="1"/>
<polyline points="154.0,365.0 206.9,357.9 230.5,350.8 241.8,343.6 275.5,336.5 304.0,329.4 328.4,322.2 348.8,315.1 378.4,308.0 397.2,300.9 428.9,293.8 446.9,286.6 461.8,279.5 473.9,272.4 488.2,265.2 505.5,258.1 519.2,251.0 531.2,243.9" fill="none" stroke="#ff8000" stroke-width="1"/>
<polyline points="155.7,365.0 172.5,357.9 202.4,350.8 240.7,343.6 282.6,336.5 312.7,329.4 340.9,322.2 375.0,315.1 388.0,308.0 415.1,300.9 428.8,293.8 460.2,286.6 472.7,279.5 501.0,272.4 510.1,265.2 519.2,258.1 528.9,251.0 538.4,243.9 549.4,236.8" fill="none" stroke="#ff8000" stroke-width="1"/>
<polyline points="157.1,365.0 190.8,357.9 218.6,350.8 257.1,343.6 280.8,336.5 307.9,329.4 330.1,322.2 343.8,315.1 382.6,308.0 399.8,300.9 413.8,293.8 436.9,286.6 464.9,279.5 471.9,272.4 498.6,265.2 506.2,258.1 521.1,251.0 531.7,243.9" fill="none" stroke="#ff8000" stroke-width="1"/>
<polyline points="157.6,365.0 174.3,357.9 210.3,350.8 258.3,343.6 290.6,336.5 318.6,329.4 352.9,322.2 371.4,315.1 398.9,308.0 417.7,300.9 442.6,293.8 449.4,286.6 485.2,279.5 503.1,272.4 514.5,265.2 525.6,258.1 540.0,251.0 547.0,243.9 562.5,236.8" fill="none" stroke="#ff8000" stroke-width="1"/>
<polyline points="159.5,365.0 186.3,357.9 230.8,350.8 265.0,343.6 287.3,336.5 334.1,329.4 363.4,322.2 370.4,315.1 389.9,308.0 417.2,300.9 435.4,293.8 455.1,286.6 472.5,279.5 492.7,272.4 500.9,265.2 512.2,258.1 527.5,251.0 543.2,243.9 551.6,236.8 560.3,229.6 569.5,222.5 574.8,215.4 580.7,208.2" fill="none" stroke="#ff8000" stroke-width="1"/>
<polyline points="160.9,365.0 202.0,357.9 229.5,350.8 267.3,343.6 292.3,336.5 319.4,329.4 360.7,322.2 376.8,315.1 396.6,308.0 419.3,300.9 432.9,293.8 452.8,286.6 480.1,279.5 488.3,272.4 505.7,265.2 521.1,258.1 534.1,251.0 540.5,243.9" fill="none" stroke="#ff8000" stroke-width="1"/>
<polyline points="161.9,365.0 185.8,357.9 214.8,350.8 245.5,343.6 292.4,336.5 329.4,329.4 348.6,322.2 372.6,315.1 395.1,308.0 424.0,300.9 444.0,293.8 465.8,286.6 477.4,279.5 488.0,272.4 499.0,265.2 517.8,258.1 531.2,251.0 539.7,243.9 545.7,236.8 564.2,229.6" fill="none" stroke="#ff8000" stroke-width="1"/>
<polyline points="163.8,365.0 187.2,357.9 212.1,350.8 269.0,343.6 297.8,336.5 324.9,329.4 342.8,322.2 375.8,315.1 401.3,308.0 450.4,300.9 461.0,293.8 466.8,286.6 483.9,279.5 501.4,272.4 512.5,265.2 523.1,258.1 536.8,251.0 545.4,243.9 552.1,236.8" fill="none" stroke="#ff8000" stroke-width="1"/>
<polyline points="165.0,365.0 200.4,357.9 230.0,350.8 257.0,343.6 297.8,336.5 319.4,329.4 336.6,322.2 373.5,315.1 399.5,308.0 423.3,300.9 451.2,293.8 464.1,286.6 480.9,279.5 497.3,272.4 505.8,265.2 514.7,258.1 533.5,251.0 542.3,243.9 551.1,236.8" fill="none" stroke="#ff8000" stroke-width="1"/>
<polyline points="165.8,365.0 207.7,357.9 242.7,350.8 268.9,343.6 299.6,336.5 324.3,329.4 357.6,322.2 379.5,315.1 401.4,308.0 440.8,300.9 457.8,293.8 472.6,286.6 482.7,279.5 498.4,272.4 511.3,265.2 523.4,258.1 534.9,251.0 549.4,243.9 555.4,236.8 564.6,229.6" fill="none" stroke="#ff8000" stroke-width="1"/>
<polyline points="167.5,365.0 198.6,357.9 238.2,350.8 275.8,343.6 301.8,336.5 344.9,329.4 364.4,322.2 384.3,315.1 402.5,308.0 424.0,300.9 443.5,293.8 458.3,286.6 482.9,279.5 489.0,272.4 502.3,265.2 519.4,258.1 534.6,251.0 538.1,243.9 552.5,236.8 563.5,229.6" fill="none" stroke="#ff8000" stroke-width="1"/>
<polyline points="169.0,365.0 189.9,357.9 229.4,350.8 273.1,343.6 309.0,336.5 342.3,329.4 349.8,322.2 396.8,315.1 412.5,308.0 430.3,300.9 466.9,293.8 481.0,286.6 494.5,279.5 512.1,272.4 525.7,265.2 534.5,258.1 545.0,251.0 559.5,243.9 565.3,236.8" fill="none" stroke="#ff8000" stroke-width="1"/>
<polyline points="170.3,365.0 222.6,357.9 246.0,350.8 273.1,343.6 306.9,336.5 334.8,329.4 355.3,322.2 378.5,315.1 406.8,308.0 418.2,300.9 445.6,293.8 462.2,286.6 486.4,279.5 508.1,272.4 522.5,265.2 527.0,258.1 537.0,251.0 546.9,243.9 557.8,236.8 567.1,229.6 573.5,222.5 579.7,215.4 582.3,208.2" fill="none" stroke="#ff8000" stroke-width="1"/>
<polyline points="170.7,365.0 217.8,357.9 250.2,350.8 279.8,343.6 312.5,336.5 332.1,329.4 367.5,322.2 383.7,315.1 415.9,308.0 448.8,300.9 476.9,293.8 490.0,286.6 497.6,279.5 509.2,272.4 520.4,265.2 530.4,258.1 547.4,251.0 559.0,243.9 565.1,236.8 572.0,229.6 579.1,222.5 582.2,215.4" fill="none" stroke="#ff8000" stroke-width="1"/>
<polyline points="172.4,365.0 195.0,357.9 210.3,350.8 255.3,343.6 313.2,336.5 343.5,329.4 356.9,322.2 376.5,315.1 414.3,308.0 442.9,300.9 463.7,293.8 478.6,286.6 494.4,279.5 512.6,272.4 521.5,265.2 529.1,258.1 543.9,251.0 554.9,243.9" fill="none" stroke="#ff8000" stroke-width="1"/>
<polyline points="174.0,365.0 214.6,357.9 259.9,350.8 275.7,343.6 317.4,336.5 336.9,329.4 374.7,322.2 391.4,315.1 419.1,308.0 436.9,300.9 460.6,293.8 483.9,286.6 499.4,279.5 523.8,272.4 537.6,265.2 540.1,258.1 548.0,251.0 557.3,243.9 565.1,236.8" fill="none" stroke="#ff8000" stroke-width="1"/>
<polyline points="174.7,365.0 225.0,357.9 275.1,350.8 296.8,343.6 311.9,336.5 337.7,329.4 370.3,322.2 390.3,315.1 408.2,308.0 424.4,300.9 447.7,293.8 463.9,286.6 485.2,279.5 500.2,272.4 510.0,265.2 520.3,258.1 534.4,251.0 544.4,243.9 551.1,236.8 566.0,229.6 571.7,222.5" fill="none" stroke="#ff8000" stroke-width="1"/>
<polyline points="176.0,365.0 203.9,357.9 238.4,350.8 288.3,343.6 321.6,336.5 355.2,329.4 379.0,322.2 392.8,315.1 423.1,308.0 440.1,300.9 470.7,293.8 485.7,286.6 503.0,279.5 516.5,272.4 532.8,265.2 541.5,258.1 550.7,251.0 561.4,243.9 569.0,236.8" fill="none" stroke="#ff8000" stroke-width="1"/>
<polyline points="177.3,365.0 188.1,357.9 241.1,350.8 274.4,343.6 321.9,336.5 359.7,329.4 395.2,322.2 406.5,315.1 421.5,308.0 432.1,300.9 454.3,293.8 490.5,286.6 500.1,279.5 518.4,272.4 533.2,265.2 540.0,258.1 547.6,251.0 553.8,243.9 561.4,236.8" fill="none" stroke="#ff8000" stroke-width="1"/>
<polyline points="180.0,365.0 222.7,357.9 248.0,350.8 287.7,343.6 324.5,336.5 357.8,329.4 387.7,322.2 407.2,315.1 421.7,308.0 443.8,300.9 472.5,293.8 484.2,286.6 498.5,279.5 510.1,272.4 524.3,265.2 532.0,258.1 545.2,251.0 550.6,243.9 559.7,236.8 574.9,229.6 577.0,222.5 580.2,215.4 586.2,208.2" fill="none" stroke="#ff8000" stroke-width="1"/>
<polyline points="180.1,365.0 213.5,357.9 256.6,350.8 303.4,343.6 324.9,336.5 344.5,329.4 382.2,322.2 391.5,315.1 422.2,308.0 449.4,300.9 464.0,293.8 484.5,286.6 499.0,279.5 508.8,272.4 518.8,265.2 529.7,258.1 545.7,251.0 554.1,243.9 561.4,236.8 567.7,229.6 577.2,222.5" fill="none" stroke="#ff8000" stroke-width="1"/>
<polyline points="182.2,365.0 215.6,357.9 267.8,350.8 304.7,343.6 329.9,336.5 370.1,329.4 390.2,322.2 408.4,315.1 427.6,308.0 447.7,300.9 472.6,293.8 490.6,286.6 504.4,279.5 526.3,272.4 539.2,265.2 540.7,258.1 550.0,251.0 560.5,243.9 566.0,236.8 572.0,229.6 579.3,222.5 586.2,215.4" fill="none" stroke="#ff8000" stroke-width="1"/>
<polyline points="183.9,365.0 229.2,357.9 259.1,350.8 301.3,343.6 333.4,336.5 360.5,329.4 400.6,322.2 417.1,315.1 430.9,308.0 458.6,300.9 483.4,293.8 489.2,286.6 507.4,279.5 522.2,272.4 534.8,265.2 542.8,258.1 552.3,251.0 560.0,243.9 565.5,236.8 572.1,229.6 580.3,222.5 585.6,215.4" fill="none" stroke="#ff8000" stroke-width="1"/>
<polyline points="184.7,365.0 218.5,357.9 234.9,350.8 274.5,343.6 333.2,336.5 375.2,329.4 394.9,322.2 417.7,315.1 429.3,308.0 459.7,300.9 472.7,293.8 490.8,286.6 504.9,279.5 517.6,272.4 530.4,265.2 546.4,258.1 549.7,251.0 558.3,243.9 563.8,236.8 574.4,229.6" fill="none" stroke="#ff8000" stroke-width="1"/>
<polyline points="186.0,365.0 221.1,357.9 302.1,350.8 321.5,343.6 338.1,336.5 357.6,329.4 392.2,322.2 416.7,315.1 435.6,308.0 466.0,300.9 477.1,293.8 493.0,286.6 511.9,279.5 525.4,272.4 538.1,265.2 543.8,258.1 555.9,251.0 560.9,243.9 571.4,236.8 577.7,229.6" fill="none" stroke="#ff8000" stroke-width="1"/>
<polyline points="187.4,365.0 223.8,357.9 260.8,350.8 301.3,343.6 344.9,336.5 362.5,329.4 371.5,322.2 401.7,315.1 445.3,308.0 482.2,300.9 496.0,293.8 510.8,286.6 523.2,279.5 533.2,272.4 544.7,265.2 555.2,258.1 566.0,251.0 574.8,243.9 576.7,236.8 581.4,229.6" fill="none" stroke="#ff8000" stroke-width="1"/>
<polyline points="189.0,365.0 220.3,357.9 270.6,350.8 305.9,343.6 342.5,336.5 360.7,329.4 398.6,322.2 414.5,315.1 438.5,308.0 469.5,300.9 496.2,293.8 501.7,286.6 513.4,279.5 526.8,272.4 543.1,265.2 547.0,258.1 556.3,251.0 560.6,243.9 562.7,236.8 573.4,229.6 582.0,222.5 586.5,215.4" fill="none" stroke="#ff8000" stroke-width="1"/>
<polyline points="190.6,365.0 215.7,357.9 259.6,350.8 318.1,343.6 350.2,336.5 382.0,329.4 409.9,322.2 425.1,315.1 449.4,308.0 473.6,300.9 483.4,293.8 502.6,286.6 526.2,279.5 539.1,272.4 545.1,265.2 550.8,258.1 567.8,251.0 572.9,243.9" fill="none" stroke="#ff8000" stroke-width="1"/>
<polyline points="190.8,365.0 244.8,357.9 313.6,350.8 328.2,343.6 346.0,336.5 370.1,329.4 395.8,322.2 418.3,315.1 441.7,308.0 452.6,300.9 480.2,293.8 500.7,286.6 516.3,279.5 532.4,272.4 544.7,265.2 554.1,258.1 558.5,251.0 565.6,243.9 569.0,236.8 574.6,229.6 582.9,222.5 587.4,215.4" fill="none" stroke="#ff8000" stroke-width="1"/>
<polyline points="192.5,365.0 234.2,357.9 287.5,350.8 333.4,343.6 354.0,336.5 388.4,329.4 408.2,322.2 421.4,315.1 452.9,308.0 476.6,300.9 495.3,293.8 519.6,286.6 529.3,279.5 542.2,272.4 556.9,265.2 560.6,258.1 570.2,251.0 575.2,243.9 579.6,236.8" fill="none" stroke="#ff8000" stroke-width="1"/>
<polyline points="194.5,365.0 255.9,357.9 312.3,350.8 332.0,343.6 356.7,336.5 377.1,329.4 394.6,322.2 438.2,315.1 454.4,308.0 480.4,300.9 506.1,293.8 522.1,286.6 529.7,279.5 543.8,272.4 556.5,265.2 559.9,258.1 569.8,251.0 575.3,243.9 581.5,236.8" fill="none" stroke="#ff8000" stroke-width="1"/>
<polyline points="194.8,365.0 220.8,357.9 257.4,350.8 311.4,343.6 352.3,336.5 373.5,329.4 406.2,322.2 418.3,315.1 446.2,308.0 465.6,300.9 493.0,293.8 501.4,286.6 519.3,279.5 534.0,272.4 545.0,265.2 553.1,258.1 559.9,251.0 565.6,243.9 572.7,236.8 575.8,229.6 583.3,222.5 585.9,215.4" fill="none" stroke="#ff8000" stroke-width="1"/>
<polyline points="196.1,365.0 240.6,357.9 270.7,350.8 331.3,343.6 355.0,336.5 368.2,329.4 393.5,322.2 409.2,315.1 448.8,308.0 463.0,300.9 489.5,293.8 506.9,286.6 521.6,279.5 539.2,272.4 545.6,265.2 550.7,258.1 561.7,251.0 566.2,243.9 576.1,236.8 578.9,229.6" fill="none" stroke="#ff8000" stroke-width="1"/>
<polyline points="198.6,365.0 232.0,357.9 301.6,350.8 341.3,343.6 361.4,336.5 379.5,329.4 405.5,322.2 427.9,315.1 455.9,308.0 475.5,300.9 485.8,293.8 513.2,286.6 528.9,279.5 544.6,272.4 555.9,265.2 559.5,258.1 567.7,251.0 574.9,243.9 579.4,236.8" fill="none" stroke="#ff8000" stroke-width="1"/>
<polyline points="198.8,365.0 227.1,357.9 313.2,350.8 329.5,343.6 361.4,336.5 399.9,329.4 424.1,322.2 445.0,315.1 455.6,308.0 475.0,300.9 500.2,293.8 520.9,286.6 528.3,279.5 541.2,272.4 551.2,265.2 558.8,258.1 567.2,251.0 571.1,243.9 575.7,236.8" fill="none" stroke="#ff8000" stroke-width="1"/>
<polyline points="200.1,365.0 247.1,357.9 287.5,350.8 317.1,343.6 363.5,336.5 383.4,329.4 413.6,322.2 425.7,315.1 457.1,308.0 480.0,300.9 504.5,293.8 517.8,286.6 529.4,279.5 541.3,272.4 553.3,265.2 562.2,258.1 567.7,251.0 569.3,243.9 577.8,236.8" fill="none" stroke="#ff8000" stroke-width="1"/>
<polyline points="202.6,365.0 253.6,357.9 296.0,350.8 340.4,343.6 371.0,336.5 400.6,329.4 432.9,322.2 448.2,315.1 466.2,308.0 482.6,300.9 499.1,293.8 513.6,286.6 539.0,279.5 551.8,272.4 563.8,265.2 568.4,258.1 575.9,251.0 579.0,243.9 582.2,236.8 586.7,229.6 591.1,222.5" fill="none" stroke="#ff8000" stroke-width="1"/>
<polyline points="203.6,365.0 255.4,357.9 300.3,350.8 336.0,343.6 371.3,336.5 403.4,329.4 421.3,322.2 452.0,315.1 465.1,308.0 478.7,300.9 502.6,293.8 527.0,286.6 537.0,279.5 553.3,272.4 561.4,265.2 570.6,258.1 573.8,251.0 577.4,243.9" fill="none" stroke="#ff8000" stroke-width="1"/>
<polyline points="204.4,365.0 231.5,357.9 285.0,350.8 322.5,343.6 369.1,336.5 395.9,329.4 403.9,322.2 426.7,315.1 459.9,308.0 487.3,300.9 511.4,293.8 519.4,286.6 529.8,279.5 544.1,272.4 552.8,265.2 559.7,258.1 566.7,251.0 569.7,243.9 575.0,236.8 582.6,229.6 585.9,222.5 587.2,215.4" fill="none" stroke="#ff8000" stroke-width="1"/>
<polyline points="205.7,365.0 235.8,357.9 297.4,350.8 330.5,343.6 376.1,336.5 400.9,329.4 415.2,322.2 444.0,315.1 470.2,308.0 484.3,300.9 507.9,293.8 523.4,286.6 541.9,279.5 560.9,272.4 566.3,265.2 576.1,258.1 577.7,251.0 583.8,243.9 587.6,236.8" fill="none" stroke="#ff8000" stroke-width="1"/>
<polyline points="207.6,365.0 269.4,357.9 304.1,350.8 342.3,343.6 378.3,336.5 400.5,329.4 419.8,322.2 449.5,315.1 470.6,308.0 497.0,300.9 515.3,293.8 531.6,286.6 541.2,279.5 547.1,272.4 561.5,265.2 571.4,258.1 576.3,251.0 580.4,243.9 583.6,236.8 588.0,229.6 590.8,222.5 594.1,215.4" fill="none" stroke="#ff8000" stroke-width="1"/>
<polyline points="208.6,365.0 283.6,357.9 323.7,350.8 338.4,343.6 378.8,336.5 407.8,329.4 435.5,322.2 445.3,315.1 470.1,308.0 483.7,300.9 502.8,293.8 532.9,286.6 539.8,279.5 554.5,272.4 563.0,265.2 570.0,258.1 574.7,251.0 578.0,243.9 581.2,236.8 584.9,229.6 589.8,222.5 592.5,215.4 593.9,208.2" fill="none" stroke="#ff8000" stroke-width="1"/>
<polyline points="210.1,365.0 255.0,357.9 276.4,350.8 324.2,343.6 381.6,336.5 406.2,329.4 446.7,322.2 458.9,315.1 472.5,308.0 494.6,300.9 510.0,293.8 527.5,286.6 541.8,279.5 550.1,272.4 562.4,265.2 568.4,258.1 576.1,251.0 579.3,243.9 582.1,236.8" fill="none" stroke="#ff8000" stroke-width="1"/>
<polyline points="211.3,365.0 246.0,357.9 312.0,350.8 355.8,343.6 384.7,336.5 406.5,329.4 431.4,322.2 451.0,315.1 476.0,308.0 487.8,300.9 524.0,293.8 532.4,286.6 545.4,279.5 556.6,272.4 570.6,265.2 573.8,258.1 579.2,251.0 583.3,243.9 586.2,236.8 590.3,229.6 591.9,222.5" fill="none" stroke="#ff8000" stroke-width="1"/>
<polyline points="212.3,365.0 280.5,357.9 319.6,350.8 337.1,343.6 388.8,336.5 415.8,329.4 451.4,322.2 467.1,315.1 481.5,308.0 505.1,300.9 526.1,293.8 539.7,286.6 551.7,279.5 558.8,272.4 566.2,265.2 575.9,258.1 584.7,251.0 587.1,243.9 590.3,236.8 593.4,229.6 594.8,222.5 596.0,215.4 597.0,208.2" fill="none" stroke="#ff8000" stroke-width="1"/>
<polyline points="214.1,365.0 233.0,357.9 308.2,350.8 354.4,343.6 388.2,336.5 407.1,329.4 443.5,322.2 465.1,315.1 477.6,308.0 497.4,300.9 518.0,293.8 537.8,286.6 545.5,279.5 554.6,272.4 563.5,265.2 570.7,258.1 578.3,251.0 580.3,243.9" fill="none" stroke="#ff8000" stroke-width="1"/>
<polyline points="215.8,365.0 238.7,357.9 290.3,350.8 355.8,343.6 391.1,336.5 420.7,329.4 444.1,322.2 464.4,315.1 479.8,308.0 492.0,300.9 519.3,293.8 533.8,286.6 547.2,279.5 560.5,272.4 569.3,265.2 574.1,258.1 579.3,251.0 581.5,243.9 587.1,236.8 588.2,229.6" fill="none" stroke="#ff8000" stroke-width="1"/>
<polyline points="216.4,365.0 250.1,357.9 296.8,350.8 375.0,343.6 395.7,336.5 430.4,329.4 452.1,322.2 472.2,315.1 486.9,308.0 507.2,300.9 533.8,293.8 546.6,286.6 555.7,279.5 563.8,272.4 573.7,265.2 581.8,258.1 587.1,251.0 588.9,243.9 592.4,236.8" fill="none" stroke="#ff8000" stroke-width="1"/>
<polyline points="217.6,365.0 273.0,357.9 312.6,350.8 373.2,343.6 397.6,336.5 420.2,329.4 453.3,322.2 464.2,315.1 488.3,308.0 512.0,300.9 530.6,293.8 546.0,286.6 556.6,279.5 568.8,272.4 574.0,265.2 582.7,258.1 587.6,251.0 589.5,243.9 591.0,236.8 593.9,229.6 595.8,222.5" fill="none" stroke="#ff8000" stroke-width="1"/>
<polyline points="219.7,365.0 293.6,357.9 336.9,350.8 383.6,343.6 401.3,336.5 428.8,329.4 463.7,322.2 479.2,315.1 491.3,308.0 508.4,300.9 522.9,293.8 549.4,286.6 558.9,279.5 571.8,272.4 576.8,265.2 583.4,258.1 589.1,251.0 590.2,243.9 591.3,236.8 594.1,229.6" fill="none" stroke="#ff8000" stroke-width="1"/>
<polyline points="331.7,321.9 339.3,314.0 344.2,308.8 349.2,303.4 353.4,298.9 357.1,294.6 365.9,284.6 369.4,280.5 372.0,277.3 381.4,265.7 383.2,263.4 388.9,256.1 394.3,248.9 395.6,247.2 397.3,244.8 404.4,235.0 411.0,225.5 419.5,212.7 422.8,207.5 424.7,204.5 428.0,199.1 433.1,190.6 436.9,184.1 443.1,173.3 446.0,168.0 452.4,156.0 455.2,150.6 460.0,140.9 462.8,135.2 465.5,129.6 469.2,121.6 473.2,112.7 479.3,98.4 481.9,92.2 483.3,88.6 486.0,82.0" fill="none" stroke="#ff8000" stroke-width="1"/>
<polyline points="403.0,300.1 413.0,292.7 419.6,287.5 426.1,282.3 433.2,276.2 441.3,269.0 449.0,261.7 452.8,257.9 456.6,253.9 463.7,246.4 470.2,239.0 477.1,230.5 484.0,221.4 490.3,212.6 494.5,206.4 497.2,202.2 498.4,200.2 501.0,196.0 505.1,189.0 506.9,185.7 508.6,182.6 511.7,176.8 514.8,170.6 518.9,161.7 521.1,156.9 522.2,154.2 523.2,152.0 525.8,145.5 527.8,140.5 530.4,133.5 530.7,132.6 532.0,129.0 536.3,116.0 537.8,111.3 539.2,106.6 540.3,102.6 542.2,95.7 543.5,90.9 544.7,86.0" fill="none" stroke="#ff8000" stroke-width="1"/>
<polyline points="398.3,305.8 401.9,303.0 411.6,295.2 426.4,282.3 428.6,280.3 436.0,273.2 442.7,266.5 450.7,258.1 472.5,232.3 481.7,219.8 488.6,209.5 494.0,201.1 497.0,196.1 501.0,189.1 505.4,181.1 508.7,174.8 512.0,168.1 518.4,154.3 523.0,143.6 524.2,140.6 525.6,137.0 528.3,130.1 530.5,123.9 532.1,119.2 536.5,105.8 540.0,94.3 541.8,87.8 543.7,81.0" fill="none" stroke="#ff8000" stroke-width="1"/>
<polyline points="336.8,319.8 340.0,317.2 347.7,310.9 350.5,308.5 354.5,305.1 367.5,293.6 376.7,285.1 378.4,283.5 380.9,281.0 393.5,268.5 400.3,261.4 413.6,246.8 419.6,239.9 426.1,232.0 433.6,222.7 436.7,218.7 438.5,216.3 443.4,209.8 450.5,199.9 453.3,195.9 459.1,187.2 462.9,181.5 465.2,177.8 470.8,168.7 478.6,155.5 480.4,152.2 481.9,149.5 487.3,139.5 493.4,127.6 500.0,113.8 502.9,107.4 506.3,99.8 508.0,95.9 509.5,92.3 514.0,81.1" fill="none" stroke="#ff8000" stroke-width="1"/>
<polyline points="316.4,326.0 324.5,317.5 333.9,307.3 340.3,300.2 347.0,292.6 354.8,283.3 363.6,272.5 365.5,270.1 371.7,262.3 380.3,250.8 385.9,243.1 390.5,236.6 396.4,227.9 407.6,210.8 412.5,203.0 415.2,198.5 419.4,191.5 421.8,187.5 429.5,173.9 431.2,170.8 436.4,161.0 437.0,159.8 439.1,155.8 441.2,151.6 446.8,140.5 449.7,134.5 452.5,128.6 457.7,117.1 463.0,104.9 465.6,98.7 467.6,93.8 470.5,86.5 472.4,81.9" fill="none" stroke="#ff8000" stroke-width="1"/>
<polyline points="311.4,328.1 315.8,324.6 321.1,320.4 329.3,313.6 341.8,302.9 356.8,289.3 363.0,283.5 365.4,281.1 375.8,270.7 381.2,265.1 388.5,257.3 392.8,252.7 399.7,244.9 410.3,232.3 416.8,224.2 421.2,218.6 429.2,207.9 438.9,194.3 441.7,190.1 446.6,182.7 451.2,175.6 456.7,166.6 459.7,161.6 460.8,159.7 467.1,148.7 469.0,145.2 473.0,137.8 475.3,133.4 482.8,118.5 483.8,116.4 486.4,110.9 488.4,106.6 489.5,104.1 490.8,101.1 492.5,97.3 495.2,91.1 496.5,88.0 498.3,83.6" fill="none" stroke="#ff8000" stroke-width="1"/>
<polyline points="421.1,294.7 423.3,291.9 430.7,282.2 434.9,276.7 439.7,270.0 448.2,257.5 453.6,249.3 456.9,244.0 462.0,235.7 464.4,231.7 470.1,221.7 472.2,217.8 476.8,209.3 482.5,198.1 485.7,191.5 487.7,187.4 490.9,180.5 494.6,172.2 499.1,161.5 502.6,153.0 504.1,149.2 508.8,136.7 510.5,132.2 512.1,127.7 514.1,121.8 516.0,116.3 518.0,109.9 522.0,97.1 523.5,92.3 525.3,86.1" fill="none" stroke="#ff8000" stroke-width="1"/>
<polyline points="351.3,315.0 369.8,299.5 375.9,294.1 392.6,278.6 398.4,272.9 400.3,271.0 402.5,268.8 412.2,258.7 417.5,252.8 421.8,248.0 428.7,240.1 434.7,232.8 439.8,226.6 448.5,215.1 452.1,210.4 455.0,206.4 460.8,198.0 465.0,191.7 466.1,190.1 471.1,182.3 477.8,171.4 482.6,163.1 485.9,157.4 488.2,153.2 494.5,141.1 498.9,132.3 503.8,121.9 507.9,112.9 513.9,98.9 517.4,90.2" fill="none" stroke="#ff8000" stroke-width="1"/>
<polyline points="324.6,328.0 328.3,323.0 333.1,316.5 335.7,312.8 346.8,297.1 350.9,291.0 358.4,279.7 363.9,271.1 365.9,267.8 369.5,262.0 373.5,255.6 374.0,254.7 376.1,251.2 380.9,243.0 385.8,234.5 390.2,226.8 393.3,221.1 395.1,217.8 397.9,212.5 401.0,206.6 404.0,201.0 406.8,195.3 408.3,192.3 411.3,186.3 413.1,182.6 417.2,174.1 419.9,168.4 421.9,164.1 428.1,150.2 428.7,148.9 432.9,139.1 435.7,132.6 441.0,119.7 443.7,113.0 446.2,106.6 451.1,93.5 453.6,86.8" fill="none" stroke="#ff8000" stroke-width="1"/>
<polyline points="469.9,272.7 475.3,265.7 482.7,255.3 485.3,251.5 487.6,248.0 490.5,243.5 494.1,237.7 497.6,231.6 500.3,227.0 504.6,219.1 505.7,217.0 509.9,208.5 513.4,201.1 516.4,194.5 517.6,191.9 520.3,185.2 525.3,172.5 527.2,167.3 529.1,162.1 530.7,157.3 535.8,141.3 537.0,136.9 538.0,133.4 543.6,111.9 544.8,107.0 546.6,99.0 547.8,93.1" fill="none" stroke="#ff8000" stroke-width="1"/>
<polyline points="314.7,325.7 323.8,318.1 327.5,314.9 335.3,308.1 340.2,303.7 344.0,300.2 350.7,294.0 360.7,284.3 369.8,275.2 385.6,258.5 393.3,249.9 399.9,242.2 405.9,234.9 407.5,233.1 412.9,226.3 414.5,224.2 423.1,213.1 427.3,207.3 432.1,200.6 438.9,190.8 443.3,184.2 449.3,175.0 456.2,163.7 461.0,155.6 464.3,149.9 467.0,145.2 472.4,135.1 473.4,133.3 474.8,130.5 478.5,123.4 480.3,119.7 483.5,113.3 485.0,110.2 488.6,102.4 489.7,100.1 497.8,81.6" fill="none" stroke="#ff8000" stroke-width="1"/>
<polyline points="471.0,272.8 479.6,267.1 488.0,261.2 495.2,255.6 505.8,246.6 515.9,236.7 518.2,234.3 523.7,228.1 528.7,222.0 533.3,215.9 538.2,208.7 540.9,204.5 544.3,198.7 552.4,182.7 553.9,179.3 559.0,166.5 561.7,158.6 564.8,148.6 565.6,145.6 567.8,136.9 568.9,132.3 570.8,123.1 572.0,116.7 573.5,108.5 574.0,105.3 574.5,101.8 576.1,90.0 576.5,86.4" fill="none" stroke="#ff8000" stroke-width="1"/>
<polyline points="543.2,237.1 545.9,233.2 549.6,227.4 550.9,225.1 551.9,223.4 554.7,217.9 557.3,212.2 563.0,196.5 566.6,182.6 568.9,171.2 569.6,167.1 570.7,159.4 571.2,156.0 572.8,141.5 573.4,134.4 574.1,123.8 574.4,119.7 574.7,114.5 575.0,107.5 575.4,97.0 575.5,92.8 575.8,86.1" fill="none" stroke="#ff8000" stroke-width="1"/>
<polyline points="430.6,295.7 446.6,282.9 457.3,273.5 461.3,269.8 467.2,264.2 475.6,255.8 478.6,252.5 485.8,244.5 492.8,236.2 497.9,229.9 503.3,222.8 511.3,211.3 512.8,209.1 517.8,201.2 521.4,195.4 525.1,188.9 526.2,186.9 530.3,179.3 533.4,173.0 536.8,166.0 543.3,151.3 547.3,141.2 551.8,128.8 553.7,123.5 555.6,117.5 558.0,109.7 561.7,96.5 563.5,89.5" fill="none" stroke="#ff8000" stroke-width="1"/>
<polyline points="552.2,237.8 563.7,229.2 573.6,218.3 577.5,212.3 580.7,206.2 585.7,191.7 586.8,187.3 588.2,179.6 588.8,176.1 589.9,166.5 590.6,158.9 590.8,155.0 591.3,146.2 591.4,143.2 591.6,136.6 591.7,133.6 591.8,129.5 592.0,120.7 592.1,113.4 592.2,109.8 592.2,103.7 592.3,91.2 592.3,86.8" fill="none" stroke="#ff8000" stroke-width="1"/>
<polyline points="462.8,279.6 467.8,275.9 475.6,269.9 484.3,262.6 489.8,257.7 494.2,253.5 499.1,248.6 500.2,247.5 508.3,238.6 513.2,232.8 517.0,227.9 520.8,222.9 525.8,215.6 528.1,212.1 533.0,204.1 538.5,194.0 541.4,188.3 542.2,186.5 545.0,180.6 546.8,176.2 549.6,169.4 552.4,162.0 556.2,150.7 558.4,143.1 560.6,135.2 562.0,129.9 563.2,124.5 564.8,117.6 566.4,109.5 567.6,103.1 568.6,97.4 569.9,89.5 571.0,82.0" fill="none" stroke="#ff8000" stroke-width="1"/>
<polyline points="545.3,242.8 552.6,236.3 563.1,224.4 569.9,214.2 571.9,210.5 575.1,203.8 578.1,196.4 580.4,189.3 581.3,186.3 584.2,173.7 584.9,170.0 586.7,158.4 587.4,152.3 588.1,145.9 588.8,137.7 589.0,134.4 589.3,129.9 589.6,125.8 590.1,115.2 590.5,103.7 590.7,94.5 590.9,90.0 590.9,86.8 591.0,82.7" fill="none" stroke="#ff8000" stroke-width="1"/>
<polyline points="371.3,314.7 372.6,312.9 376.3,307.9 378.3,305.1 388.0,291.4 394.3,282.0 398.2,276.1 399.8,273.7 406.4,263.4 411.5,255.1 412.7,253.1 417.9,244.4 425.2,231.7 430.6,222.0 435.9,212.0 438.5,207.0 444.3,195.7 447.4,189.4 453.7,176.2 458.8,165.0 463.2,155.0 465.3,150.1 468.3,143.1 469.6,140.0 474.7,127.2 476.6,122.3 479.3,115.5 482.0,108.1 484.7,100.8 486.1,96.9 491.5,81.4" fill="none" stroke="#ff8000" stroke-width="1"/>
<polyline points="343.0,316.8 350.4,307.4 358.3,296.8 364.1,289.0 368.3,283.1 374.6,274.2 381.0,264.7 382.8,262.0 388.2,253.8 392.2,247.5 393.9,244.7 399.2,236.2 404.7,227.0 408.5,220.5 415.0,209.0 418.7,202.3 421.8,196.6 424.0,192.3 425.7,189.1 428.9,182.9 435.2,170.2 440.6,159.0 442.1,155.9 446.1,147.2 449.6,139.4 452.7,132.3 455.9,124.8 457.2,121.6 460.8,112.8 462.1,109.7 464.3,104.2 466.8,97.8 468.0,94.7 469.5,90.5" fill="none" stroke="#ff8000" stroke-width="1"/>
<polyline points="523.6,247.8 528.2,242.7 537.0,231.6 539.6,227.8 542.4,223.3 545.7,217.9 550.2,209.2 553.1,203.0 555.2,198.1 559.4,186.7 563.5,172.9 566.1,162.2 567.1,157.2 568.5,150.1 569.7,142.7 570.7,136.0 572.4,122.5 573.1,116.5 573.4,113.6 573.7,109.3 574.4,102.1 574.8,96.7 575.0,93.5 575.8,80.3" fill="none" stroke="#ff8000" stroke-width="1"/>
<polyline points="361.1,314.8 368.1,309.4 370.4,307.5 382.9,297.3 386.9,293.8 391.1,290.1 394.1,287.5 410.7,271.8 415.7,266.8 420.3,261.9 429.8,251.6 437.3,243.0 442.9,236.3 449.7,227.6 452.1,224.5 459.8,214.0 461.0,212.3 464.4,207.4 469.9,199.2 472.0,195.9 474.3,192.2 478.6,185.1 486.7,171.0 489.3,166.2 495.3,154.4 497.3,150.4 498.8,147.2 501.3,141.7 505.5,132.5 511.3,118.3 519.5,96.5 523.7,83.8 524.4,81.6" fill="none" stroke="#ff8000" stroke-width="1"/>
<polyline points="392.9,303.0 406.7,289.1 409.9,285.9 425.6,268.4 439.2,252.0 442.9,247.2 449.7,238.1 452.2,234.7 457.3,227.4 460.4,222.9 463.9,217.6 474.3,201.1 475.4,199.2 476.1,198.0 479.4,192.2 483.8,184.4 486.3,179.8 493.9,165.0 497.2,158.1 498.4,155.5 501.6,148.6 503.9,143.3 507.5,135.1 509.4,130.4 512.6,122.3 514.6,117.2 515.6,114.5 517.4,109.7 520.1,102.1 523.8,91.3 525.5,86.0" fill="none" stroke="#ff8000" stroke-width="1"/>
<polyline points="459.3,280.3 467.6,270.6 468.5,269.5 475.2,261.2 481.5,252.9 487.4,244.7 492.2,237.6 499.0,227.2 502.3,221.7 503.8,219.2 508.2,211.6 510.9,206.9 514.5,200.1 517.0,195.2 522.0,185.0 527.5,173.0 532.5,161.1 535.8,152.9 543.8,130.6 547.0,120.7 550.0,110.8 550.5,109.1 552.6,101.6 554.2,95.7 556.4,87.3" fill="none" stroke="#ff8000" stroke-width="1"/>
<polyline points="341.9,318.4 355.5,308.5 370.5,297.0 381.4,288.0 397.2,274.2 414.1,258.1 420.9,251.2 428.0,243.7 437.5,233.0 440.1,230.0 446.6,222.2 447.8,220.8 456.5,209.7 465.0,198.0 468.6,192.9 473.6,185.5 480.6,174.5 482.2,171.9 483.2,170.2 486.9,163.9 489.0,160.2 494.4,150.5 499.9,140.0 503.2,133.4 507.5,124.3 513.3,111.3 516.1,104.6 520.9,92.5 522.2,89.1 525.0,81.6" fill="none" stroke="#ff8000" stroke-width="1"/>
<polyline points="333.5,322.1 343.2,313.4 357.0,300.4 362.3,295.2 371.1,286.2 373.4,283.8 380.7,276.0 390.3,265.4 393.3,262.0 395.8,259.1 407.0,245.8 409.1,243.2 420.8,228.2 426.4,220.6 429.8,216.0 437.6,204.8 441.8,198.6 450.3,185.4 453.1,180.9 458.5,172.0 461.4,167.2 463.9,162.9 469.4,153.0 472.5,147.2 477.2,138.3 479.7,133.3 483.4,126.0 485.6,121.4 490.2,111.7 493.4,104.6 497.1,96.2 499.1,91.4" fill="none" stroke="#ff8000" stroke-width="1"/>
<polyline points="151.0,365.0 200.0,356.8 260.0,346.4 300.0,337.3 320.0,333.2 360.0,321.8 420.0,301.4 440.0,292.7 495.0,273.2 526.8,262.0 550.6,249.3 568.0,238.2 575.0,235.0 581.0,226.0 586.0,216.0 590.0,200.0 591.4,189.5 592.0,170.0 593.2,151.7 600.4,121.0 602.3,80.0" fill="none" stroke="#000" stroke-width="2"/>
<polyline points="151.0,366.2 200.0,358.0 260.0,347.6 300.0,338.5 320.0,334.4 360.0,323.0 420.0,302.6 440.0,293.9 495.0,274.4 526.8,263.2 550.6,250.5 568.0,239.4 575.0,236.2 581.0,227.2 586.0,217.2 590.0,201.2 591.4,190.7 592.0,171.2 593.2,152.9 600.4,122.2 603.2,80.0" fill="none" stroke="#000" stroke-width="2"/>
<polyline points="151.0,365.0 200.0,358.0 260.0,350.0 300.0,342.7 320.0,339.5 380.0,328.0 420.0,319.0 440.0,311.0 480.0,298.0 495.0,291.4 518.8,281.1 534.7,269.2 542.7,262.8 550.6,256.5 569.7,246.9 577.7,243.0 584.0,235.0 588.0,222.7 593.6,208.7 595.8,192.5 596.6,160.0 601.5,125.0 604.6,80.0" fill="none" stroke="#000" stroke-width="2"/>
<polyline points="151.0,365.0 230.0,359.0 260.0,352.7 300.0,346.5 320.0,344.0 420.0,323.6 440.0,315.0 480.0,303.6 495.0,297.0 510.9,289.8 523.6,279.5 536.3,269.2 542.7,265.2 561.8,257.3 579.3,246.1 582.4,239.8 586.4,228.0 589.0,220.0 593.0,205.0 596.0,190.0 598.0,160.0 602.0,120.0 605.3,80.0" fill="none" stroke="#000" stroke-width="2"/>
<polyline points="152.0,365.0 205.0,354.6 260.0,341.8 280.0,336.8 300.0,331.3 320.0,325.9 360.0,314.5 420.0,298.2 440.0,289.3 495.0,265.2 527.0,250.0 553.8,235.0 574.0,220.0 580.3,214.7 584.0,202.8 589.2,194.0 593.6,186.6 594.4,174.8 595.5,163.0 599.6,117.0 601.2,80.0" fill="none" stroke="#0000ff" stroke-width="2"/>
<rect x="65.5" y="65.5" width="550" height="310" fill="none" stroke="#000" stroke-width="1"/>
<line x1="128.5" y1="375" x2="128.5" y2="370" stroke="#000"/>
<line x1="128.5" y1="65" x2="128.5" y2="71" stroke="#000"/>
<line x1="181.5" y1="375" x2="181.5" y2="365" stroke="#000"/>
<line x1="181.5" y1="65" x2="181.5" y2="76" stroke="#000"/>
<line x1="234.5" y1="375" x2="234.5" y2="370" stroke="#000"/>
<line x1="234.5" y1="65" x2="234.5" y2="71" stroke="#000"/>
<line x1="287.5" y1="375" x2="287.5" y2="365" stroke="#000"/>
<line x1="287.5" y1="65" x2="287.5" y2="76" stroke="#000"/>
<line x1="340.5" y1="375" x2="340.5" y2="370" stroke="#000"/>
<line x1="340.5" y1="65" x2="340.5" y2="71" stroke="#000"/>
<line x1="393.5" y1="375" x2="393.5" y2="365" stroke="#000"/>
<line x1="393.5" y1="65" x2="393.5" y2="76" stroke="#000"/>
<line x1="446.5" y1="375" x2="446.5" y2="370" stroke="#000"/>
<line x1="446.5" y1="65" x2="446.5" y2="71" stroke="#000"/>
<line x1="499.5" y1="375" x2="499.5" y2="365" stroke="#000"/>
<line x1="499.5" y1="65" x2="499.5" y2="76" stroke="#000"/>
<line x1="552.5" y1="375" x2="552.5" y2="370" stroke="#000"/>
<line x1="552.5" y1="65" x2="552.5" y2="71" stroke="#000"/>
<line x1="605.5" y1="375" x2="605.5" y2="365" stroke="#000"/>
<line x1="605.5" y1="65" x2="605.5" y2="76" stroke="#000"/>
<line x1="65" y1="336.5" x2="71" y2="336.5" stroke="#000"/>
<line x1="616" y1="336.5" x2="610" y2="336.5" stroke="#000"/>
<line x1="65" y1="307.5" x2="71" y2="307.5" stroke="#000"/>
<line x1="616" y1="307.5" x2="610" y2="307.5" stroke="#000"/>
<line x1="65" y1="278.5" x2="71" y2="278.5" stroke="#000"/>
<line x1="616" y1="278.5" x2="610" y2="278.5" stroke="#000"/>
<line x1="65" y1="249.5" x2="71" y2="249.5" stroke="#000"/>
<line x1="616" y1="249.5" x2="610" y2="249.5" stroke="#000"/>
<line x1="65" y1="220.5" x2="76" y2="220.5" stroke="#000"/>
<line x1="616" y1="220.5" x2="605" y2="220.5" stroke="#000"/>
<line x1="65" y1="191.5" x2="71" y2="191.5" stroke="#000"/>
<line x1="616" y1="191.5" x2="610" y2="191.5" stroke="#000"/>
<line x1="65" y1="162.5" x2="71" y2="162.5" stroke="#000"/>
<line x1="616" y1="162.5" x2="610" y2="162.5" stroke="#000"/>
<line x1="65" y1="133.5" x2="71" y2="133.5" stroke="#000"/>
<line x1="616" y1="133.5" x2="610" y2="133.5" stroke="#000"/>
<line x1="65" y1="104.5" x2="71" y2="104.5" stroke="#000"/>
<line x1="616" y1="104.5" x2="610" y2="104.5" stroke="#000"/>
<line x1="65" y1="75.5" x2="76" y2="75.5" stroke="#000"/>
<line x1="616" y1="75.5" x2="605" y2="75.5" stroke="#000"/>
</g>
<text x="310" y="30" font-family="Liberation Mono, monospace" font-weight="bold" font-size="14" letter-spacing="1.2">T1086-D1</text>
<text x="219" y="420" font-family="Liberation Mono, monospace" font-weight="bold" font-size="14" letter-spacing="1.27">Percent of Residues (CA)</text>
<text x="60.5" y="395" font-family="Liberation Mono, monospace" font-weight="bold" font-size="14" letter-spacing="1.2">0</text>
<text x="171.5" y="395" font-family="Liberation Mono, monospace" font-weight="bold" font-size="14" letter-spacing="1.2">20</text>
<text x="277.5" y="395" font-family="Liberation Mono, monospace" font-weight="bold" font-size="14" letter-spacing="1.2">40</text>
<text x="383.5" y="395" font-family="Liberation Mono, monospace" font-weight="bold" font-size="14" letter-spacing="1.2">60</text>
<text x="489.5" y="395" font-family="Liberation Mono, monospace" font-weight="bold" font-size="14" letter-spacing="1.2">80</text>
<text x="595.5" y="395" font-family="Liberation Mono, monospace" font-weight="bold" font-size="14" letter-spacing="1.2">100</text>
<text transform="translate(55,375.3) rotate(-90)" text-anchor="middle" font-family="Liberation Mono, monospace" font-weight="bold" font-size="14" letter-spacing="1.2">0</text>
<text transform="translate(55,220.5) rotate(-90)" text-anchor="middle" font-family="Liberation Mono, monospace" font-weight="bold" font-size="14" letter-spacing="1.2">5</text>
<text transform="translate(55,65.4) rotate(-90)" text-anchor="middle" font-family="Liberation Mono, monospace" font-weight="bold" font-size="14" letter-spacing="1.2">10</text>
<text transform="translate(30.4,321) rotate(-90)" font-family="Liberation Mono, monospace" font-weight="bold" font-size="14" letter-spacing="1.4">Distance Cutoff, A</text>
</svg>
</body></html>
